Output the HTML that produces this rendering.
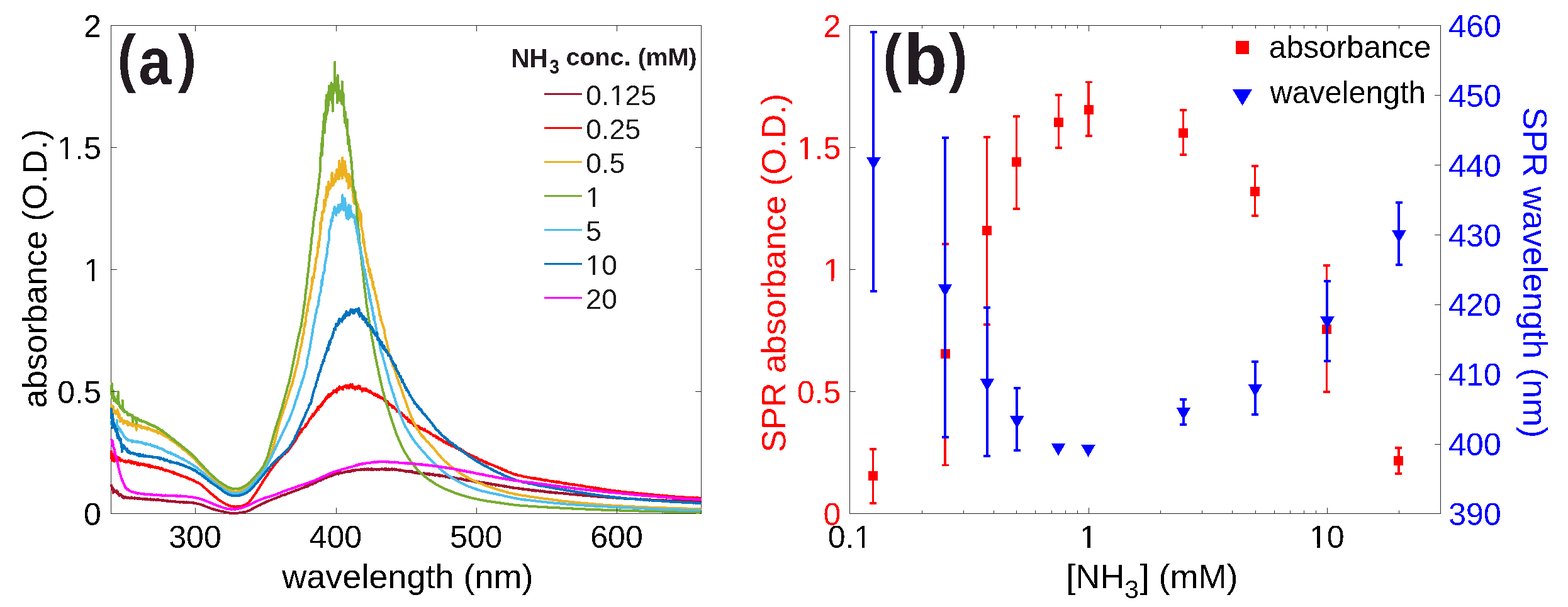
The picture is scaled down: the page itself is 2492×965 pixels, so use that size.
<!DOCTYPE html>
<html><head><meta charset="utf-8"><title>figure</title><style>html,body{margin:0;padding:0;background:#fff;overflow:hidden}svg{display:block}</style></head><body>
<svg width="2492" height="965" viewBox="0 0 2492 965">
<rect width="100%" height="100%" fill="#fff"/>
<defs><filter id="cr" x="0" y="0" width="100%" height="100%" filterUnits="userSpaceOnUse"><feComponentTransfer><feFuncA type="discrete" tableValues="0 1"/></feComponentTransfer></filter></defs>
<defs><clipPath id="ca"><rect x="174.5" y="38.5" width="942.0" height="780.0"/></clipPath></defs>
<rect x="176.5" y="40.5" width="938.0" height="776.0" fill="none" stroke="#262626" stroke-width="1"/>
<g clip-path="url(#ca)" fill="none" stroke-width="4" stroke-linejoin="round" stroke-linecap="butt" shape-rendering="crispEdges">
<path d="M176.5 773.7l.6-2.1 .5 2.3 .6 3.8 .5 .2 .6-2.5 .5 8.2 .6-6.1 .6 .8 .5 1.9 .6 1.1 .5 .6 .6 .5 .6-.2 .5 .3 .6 .3 .5-2.8 .6 2.8 .6 1 .5-2.3 .6 4 .5 .6 .6-.9 .5 2.5 .6 .4 .6-1.7 .5 .4 .6-.9 .5 1.3 .6 .5 .5 .3 .6 .8 .6 1.8 .5-1.1 .6-.5 .5 1 .6 0 .6 1.7 .5-2 .6 1.3 .5-.1 .6-.8 .6 .7 .5-.4 .6 .5 .5-.1 .6 1 .5-.7 .6 .1 .6-.5 .5 .7 .6-.1 .5 .9 .6-.7 .5 .1 .6 .4 .6-.8 .5 .5 .6-1.2 .5 1.1 .6 .1 .6 0 .5 0 .6 .6 .5-.3 .6 .3 .6-.1 .5 .5 .6-1.4 .5 1.2 .6-.3 .5 .3 .6-.5 .6 .4 .5 .5 .6-.6 .5-.3 .6 .2 .5 .5 .6 .5 .6-.1 .5-.8 .6 .6 .5 .4 .6-.7 .6 .4 .5 0 .6 .2 .5 0 .6 .2 .6 .5 .5-1 .6 .4 .5 0 .6 .2 .5-.3 .6 1 .6-.7 .5 .7 .6-.3 .5-1 .6 .6 .5 .2 .6-.1 .6-.3 .5 .5 .6-.1 .5-.1 .6 .3 .6-.1 .5-.1 .6-.2 .5 .7 .6-.7 .6 1.3 .5-.9 .6-.1 .5 .6 .6-.2 .5-.3 .6 1.1 .6-.8 .5-.1 .6 .2 .5-.1 .6 .4 .5 .1 .6-.1 .6 .2 .5-.1 .6-.6 .5 .6 .6 .2 .6 .1 .5-.6 .6 .6 .5-.7 .6 .8 .6 0 .5-.3 .6 .3 .5 .2 .6 .1 .5-.3 .6 .5 .6-.4 .5 .9 .6-.4 .5 .1 .6-.4 .5 .7 .6-.3 .6 .2 .5 0 .6 .1 .5-.5 .6 .8 .6 0 .5 .2 .6 .4 .5-.3 .6-.5 .6 .2 .5 .6 .6-.3 .5 .1 .6 0 .5 .1 .6 .2 .6-.6 .5 .6 .6 0 .5 0 .6 .3 .5 .3 .6-.4 .6-.1 .5 0 .6 .1 .5 .4 .6-.6 .6 .2 .5 0 .6 .3 .5-.3 .6 .8 .6 .1 .5 .2 .6-.5 .5 0 .6 .1 .5-.2 .6 .6 .6-.5 .5 .3 .6-.3 .5 .7 .6-.4 .5-.5 .6 .4 .6-.1 .5 .1 .6 .1 .5 .2 .6-.2 .6 .6 .5-.6 .6-.3 .5 .3 .6 .6 .6-.3 .5 0 .6 .3 .5-.3 .6-.1 .5 .2 .6-.2 .6 .1 .5 .4 .6-.4 .5-.1 .6 .5 .5-.2 .6 0 .6 .1 .5 .4 .6-.3 .5 0 .6-.1 .6 .1 .5 .3 .6-.1 .5-.1 .6 .1 .6 .5 .5 .4 .6-.5 .5 .3 .6-.1 .5-.2 .6 .5 .6 .2 .5 0 .6 0 .5 .5 .6-.1 .5 .3 .6-.2 .6 0 .5 .4 .6 .2 .5 0 .6 .3 .6 .2 .5 .1 .6 .1 .5 .4 .6-.2 .6 .3 .5 .3 .6 .4 .5-.2 .6 .5 .5 .2 .6 .2 .6 .3 .5-.3 .6 .6 .5 .2 .6 0 .5 .4 .6 .4 .6 .1 .5 0 .6 .5 .5 .1 .6 .5 .6-.1 .5 .2 .6 .2 .5 .3 .6 .3 .6 .4 .5 0 .6 .1 .5 .4 .6 .1 .5 .1 .6 .1 .6 .1 .5 .6 .6 .1 .5-.1 .6 .3 .5 .1 .6-.1 .6 .3 .5 .2 .6 .2 .5 .3 .6 .1 .6 .3 .5 0 .6 .1 .5 .2 .6 .2 .6 .2 .5 .1 .6 .4 .5-.3 .6 .2 .5 .2 .6 .1 .6 .1 .5 .2 .6-.1 .5 .1 .6 .3 .5 .2 .6-.1 .6-.1 .5 .6 .6-.1 .5 .1 .6 0 .6 .4 .5 .2 .6-.4 .5 .6 .6 0 .6 0 .5 .2 .6 0 .5 .3 .6-.2 .5 .4 .6 0 .6 .3 .5 0 .6 .3 .5-.1 .6 .1 .5 0 .6 .1 .6 .2 .5-.4 .6 .2 .5 0 .6 .2 .6 0 .5 0 .6 .1 .5 0 .6-.2 .6 0 .5 0 .6-.3 .5 .1 .6 0 .5-.2 .6 0 .6-.1 .5 0 .6-.1 .5-.1 .6-.1 .5 0 .6-.2 .6-.1 .5 .1 .6 0 .5-.1 .6-.5 .6 0 .5 .2 .6-.4 .5 .2 .6-.2 .6-.1 .5-.2 .6 .3 .5-.4 .6-.1 .5 0 .6-.2 .6-.3 .5-.3 .6-.1 .5-.2 .6-.2 .5-.2 .6-.3 .6-.1 .5-.3 .6-.1 .5-.2 .6-.5 .6-.1 .5-.6 .6-.1 .5-.2 .6-.6 .6 .1 .5-.5 .6-.1 .5-.8 .6 0 .5-.4 .6-.2 .6-.4 .5-.3 .6-.3 .5-.5 .6 0 .5-.3 .6-.4 .6-.3 .5-.1 .6-.4 .5-.2 .6-.4 .6-.3 .5 .1 .6-.7 .5 .3 .6-1.1 .6 .1 .5-.3 .6-.4 .5-.2 .6-.3 .5 0 .6-.5 .6-.3 .5-.5 .6 .4 .5-.6 .6-.3 .5-.3 .6 .1 .6-.6 .5 0 .6-.3 .5-.6 .6 .2 .6-.4 .5-.3 .6-.2 .5-.2 .6-.4 .6 0 .5-.3 .6-.3 .5-.2 .6-.2 .5-.1 .6-.3 .6-.1 .5-.4 .6-.1 .5-.2 .6-.4 .5-.1 .6-.1 .6-.5 .5 0 .6-.5 .5-.1 .6-.1 .6-.3 .5 .3 .6-.6 .5-.5 .6-.1 .6-.2 .5-.2 .6-.3 .5-.1 .6-.2 .5-.1 .6-.3 .6-.2 .5-.3 .6-.9 .5 .5 .6-.3 .5-.1 .6-.4 .6-.6 .5 0 .6 .1 .5-.2 .6-.6 .6 .1 .5-.3 .6 .3 .5-.9 .6 .2 .6-.3 .5 0 .6-.4 .5-.5 .6-.2 .5 .1 .6-.4 .6 0 .5-.2 .6-.3 .5 0 .6-.3 .5-.4 .6-.2 .6 .4 .5-.8 .6-.3 .5 .1 .6 .2 .6-.7 .5 0 .6-.4 .5-.1 .6-.3 .6 0 .5-.4 .6-.2 .5-.2 .6 0 .5-1 .6 .5 .6-.2 .5-.2 .6 .1 .5-.6 .6-.4 .5-.2 .6 .1 .6-.1 .5-.4 .6-.5 .5-.1 .6-.6 .6 .1 .5-.2 .6-.4 .5-.2 .6 .1 .6-.2 .5-.3 .6-.3 .5 .1 .6-.5 .5-.4 .6 .2 .6-.2 .5-.3 .6-.4 .5-1 .6 1.2 .5-.8 .6-.2 .6-.5 .5 .6 .6-1 .5 0 .6-.3 .6-.7 .5 .3 .6-.6 .5-.1 .6-.2 .6-.6 .5 .4 .6-1.1 .5-.1 .6 0 .5 .5 .6-.9 .6-.2 .5-.4 .6 .2 .5-1.1 .6 0 .5 .5 .6-.5 .6 .4 .5-1.3 .6-.5 .5-.7 .6 .6 .6-.3 .5-.3 .6-.1 .5-.9 .6 .3 .6-.1 .5-.4 .6 .7 .5-1.4 .6-.2 .5-.1 .6-.7 .6-.1 .5 .1 .6 .1 .5-.4 .6-.3 .5-.5 .6-.3 .6-.9 .5 .5 .6-.9 .5 .1 .6-.5 .6 .2 .5 .7 .6-1.5 .5 .2 .6 0 .6-1 .5 0 .6 .2 .5-.3 .6-1.1 .5 .7 .6-.6 .6 .4 .5-.9 .6 .6 .5-.7 .6 .7 .5-1.1 .6-.5 .6 .8 .5-.5 .6-.7 .5 0 .6 .1 .6-.4 .5 0 .6-.6 .5 .4 .6-.6 .6 0 .5-.2 .6 .1 .5-.4 .6-.1 .5 .1 .6 .8 .6-2.1 .5 .6 .6 .3 .5-.6 .6 .3 .5-.3 .6-.6 .6 .3 .5 0 .6-.1 .5 .3 .6-.4 .6-.2 .5 0 .6 .2 .5-.8 .6 .2 .6-.7 .5-.5 .6 .8 .5-.4 .6-.1 .5 .6 .6-.3 .6-1.1 .5 .5 .6-.5 .5 1 .6-.9 .5-.5 .6-.1 .6 1.6 .5-1.3 .6 0 .5-.4 .6 .8 .6-.5 .5-.7 .6 .3 .5-.1 .6-1.1 .6 1.1 .5 .6 .6-.9 .5 .3 .6 .1 .5-.8 .6-.9 .6 .8 .5-.2 .6 .2 .5-.3 .6-.2 .5 .1 .6-.4 .6 .3 .5 .3 .6-.5 .5 0 .6 .3 .6-.5 .5-.4 .6 .8 .5-.5 .6-.3 .6 .3 .5 .1 .6-.2 .5-.1 .6-.2 .5 .1 .6 .6 .6-1 .5-.3 .6 1.2 .5-.3 .6 .1 .5-.8 .6-.2 .6 1.5 .5-.7 .6 .2 .5-.4 .6-.7 .6 1.4 .5-.3 .6-.4 .5 0 .6-.2 .6 .3 .5 .4 .6-.4 .5-1.3 .6 1 .5 .8 .6-.9 .6 .5 .5-.5 .6 1.5 .5-1.7 .6 .9 .5-.3 .6-.2 .6 .1 .5 .4 .6 .1 .5-.3 .6 .7 .6-.6 .5 .2 .6-.5 .5 .1 .6-.2 .6 .3 .5 .8 .6-.8 .5-.4 .6 .5 .5-.2 .6-.3 .6 .3 .5-.6 .6-.2 .5 .9 .6-.4 .5 .5 .6 .2 .6-.4 .5-.2 .6-.6 .5 1.2 .6-.7 .6 .3 .5 .4 .6-1.5 .5 .9 .6 .7 .6-1.1 .5 1.2 .6 0 .5-.4 .6-.9 .5 1.7 .6-1.6 .6 .6 .5 .8 .6-.8 .5 .1 .6 0 .5-.2 .6 .1 .6-1 .5 1.7 .6-.8 .5 .5 .6-.4 .6-.2 .5-.6 .6 1.5 .5-.2 .6-.7 .6 0 .5 1 .6-.9 .5 .9 .6 .1 .5-.3 .6 .4 .6 0 .5 .2 .6 0 .5 .5 .6 .3 .5-.9 .6 .3 .6-.1 .5-.1 .6 .7 .5 .1 .6 0 .6 0 .5-.3 .6 .4 .5 .2 .6-.2 .6 .5 .5 .3 .6-.6 .5 0 .6 .5 .5-.2 .6 1.1 .6-.8 .5 0 .6 .4 .5-.1 .6-.1 .5 .1 .6 .6 .6-.5 .5 .9 .6-1.6 .5 1.4 .6 0 .6 .2 .5-1.4 .6 1.4 .5-.2 .6-.9 .6 .4 .5 1.7 .6-.8 .5 0 .6 0 .5 .4 .6 .1 .6 1 .5-.1 .6-.9 .5 .8 .6-.3 .5-.1 .6 .6 .6 .4 .5-1.6 .6 .8 .5 .3 .6-.4 .6 1.4 .5-.8 .6-1 .5 .3 .6 .5 .6 .8 .5-.4 .6 .9 .5-.6 .6 .8 .5-.5 .6-.5 .6 .7 .5 0 .6-.9 .5 .7 .6 .1 .5 .5 .6-.8 .6 .2 .5 .2 .6 0 .5 .7 .6-.2 .6-.2 .5-.7 .6 .5 .5 .3 .6 .2 .6 1.1 .5-1.5 .6 1.3 .5-.2 .6-.5 .5-.1 .6 .1 .6 .4 .5 .4 .6 .6 .5-1.2 .6-.6 .5 1.4 .6-.6 .6 .5 .5 .2 .6-.1 .5 1.1 .6-.9 .6 .3 .5-.4 .6 .3 .5-.4 .6 0 .6 .8 .5 .1 .6-.8 .5 .8 .6 .6 .5 .3 .6-1.7 .6 1 .5 .9 .6-.7 .5 .1 .6 .1 .5-.7 .6 .1 .6 1.3 .5 0 .6-.2 .5-.3 .6 .3 .6 0 .5 .2 .6 .4 .5-.5 .6 1.4 .6-1 .5 .5 .6-.2 .5-.9 .6 1 .5 .8 .6-.5 .6-.1 .5 .9 .6-.4 .5 .9 .6-.9 .5 .2 .6 0 .6 .2 .5-.1 .6 .5 .5-.8 .6-.1 .6 .9 .5 .1 .6-.3 .5 .6 .6-.4 .6 .6 .5-.3 .6 .4 .5-.1 .6-.4 .5 1.4 .6-.9 .6 .4 .5 .2 .6 .1 .5 .6 .6-.3 .5-.2 .6 .7 .6-.6 .5-.5 .6-.1 .5 .6 .6 .3 .6 .7 .5-1.1 .6 1.2 .5-.5 .6 0 .6 .5 .5 .1 .6 .4 .5-.2 .6 .3 .5 .3 .6 .1 .6-.6 .5-.1 .6 1 .5 .6 .6-.6 .5 .3 .6 0 .6-.3 .5 .2 .6 .1 .5 .3 .6-.3 .6 .4 .5 0 .6 .1 .5-.4 .6 .7 .6-.2 .5 .3 .6-.4 .5 .6 .6 0 .5-.3 .6 .4 .6 .6 .5 0 .6-1.1 .5 1.7 .6-.5 .5-.8 .6 1.7 .6-.5 .5 0 .6 .4 .5-.4 .6 0 .6 .3 .5 .4 .6-.6 .5 .1 .6 .3 .6 .5 .5-.3 .6 0 .5 .2 .6-.3 .5 .5 .6 .1 .6 .5 .5-.4 .6-.1 .5 .2 .6 .4 .5-.9 .6 .8 .6 .2 .5 .1 .6-.1 .5 .6 .6-.3 .6 0 .5 .2 .6-.2 .5 .4 .6 .1 .6 .3 .5-.6 .6 .7 .5-.1 .6 .2 .5-.5 .6 .1 .6 1.4 .5-1.5 .6 .9 .5 .6 .6-.4 .5 .7 .6-.5 .6 .4 .5-.1 .6 .1 .5-.1 .6-.1 .6-.2 .5 .8 .6-.1 .5 1 .6-.7 .6-.6 .5 1.1 .6-.6 .5 .3 .6 .4 .5-.3 .6 .4 .6-.4 .5 1 .6 0 .5-.5 .6 .3 .5 .4 .6-.2 .6 .2 .5 0 .6-.1 .5 0 .6 .9 .6-.5 .5-.6 .6 .9 .5-.1 .6 .7 .6-.7 .5 .4 .6-.2 .5 .3 .6-.1 .5 1 .6-.6 .6 .5 .5 0 .6 0 .5 0 .6 .1 .5-.3 .6 1.3 .6-.5 .5 0 .6-.2 .5 .3 .6 .1 .6-.1 .5 .2 .6 .3 .5 .3 .6-.3 .6-.2 .5 .3 .6 .7 .5-.4 .6 .1 .5 0 .6 .1 .6-.4 .5 .7 .6 0 .5 0 .6-.2 .5 .3 .6 .2 .6-.2 .5 .3 .6-.5 .5 .8 .6 .3 .6-.5 .5 .4 .6-.3 .5 .3 .6 .1 .6 .5 .5-.5 .6 .7 .5-1 .6 .4 .5 .4 .6 .3 .6-.6 .5 .4 .6 .4 .5-.2 .6 .2 .5 0 .6-.1 .6-.3 .5 .3 .6 .5 .5-.2 .6 .1 .6-.6 .5 1.1 .6-.3 .5-.3 .6 .5 .6 .1 .5-.1 .6 .2 .5-.4 .6 .8 .5-.1 .6 .3 .6-.5 .5 .3 .6-.4 .5 .1 .6-.1 .5 .7 .6 .6 .6-.6 .5-.5 .6 .4 .5 .7 .6-.5 .6-.2 .5-.2 .6 .6 .5-.1 .6 .1 .6 .3 .5 .4 .6-.4 .5 .4 .6-.1 .5-.7 .6 .7 .6 .1 .5-.4 .6 .6 .5-.7 .6 .4 .5 .5 .6 0 .6 .3 .5-.6 .6 .6 .5 .6 .6-1 .6 .4 .5 0 .6 0 .5 .7 .6-.1 .6-.3 .5 .5 .6-.4 .5-.1 .6 .2 .5 0 .6 .6 .6-.2 .5-.5 .6 .7 .5-.2 .6 .5 .5-.8 .6 .7 .6-.2 .5 0 .6 0 .5-.2 .6 .3 .6 .3 .5 .3 .6-.4 .5-.4 .6 1.3 .6-.8 .5 .4 .6-.1 .5 0 .6 0 .5-.5 .6 .6 .6 .2 .5-.1 .6 .2 .5 .1 .6 0 .5 0 .6 .2 .6 .1 .5 .1 .6-.1 .5 .1 .6-.3 .6 .1 .5 .3 .6 0 .5-.3 .6 .5 .6-.1 .5 .1 .6 0 .5-.4 .6 .8 .5-.7 .6 .5 .6 0 .5 .1 .6-.1 .5 .4 .6-.2 .5 .3 .6-.1 .6 0 .5 .3 .6 .3 .5-.5 .6 0 .6 .2 .5 .2 .6-.1 .5 .5 .6-.4 .6 .1 .5 0 .6 .1 .5 .2 .6-.2 .5 .2 .6-.1 .6 .2 .5 .4 .6-.3 .5 0 .6-.3 .5 .2 .6 .7 .6-.5 .5 .3 .6-.2 .5 .2 .6 .1 .6 0 .5 0 .6 0 .5 .1 .6 0 .6 .2 .5-.1 .6 .2 .5 0 .6 .1 .5 0 .6 .7 .6-.6 .5 .2 .6-.1 .5 .4 .6-.4 .5-.1 .6 .4 .6 .2 .5-.2 .6 .3 .5-.5 .6 .6 .6-.1 .5 0 .6 .3 .5-.2 .6 .1 .6-.2 .5-.4 .6 .7 .5-.2 .6 .5 .5-.2 .6 .1 .6 .1 .5-.2 .6 .1 .5 .4 .6-.1 .5-.2 .6-.4 .6 .6 .5-.2 .6-.3 .5 .6 .6 .1 .6 .2 .5 0 .6-.1 .5-.2 .6 .4 .6 0 .5 .6 .6-.6 .5 .2 .6-.2 .5 .4 .6-.2 .6 0 .5 .2 .6 .2 .5-.1 .6-.1 .5 .3 .6 .2 .6-.2 .5 .1 .6-.2 .5 0 .6-.2 .6 .3 .5 .1 .6 .3 .5-.3 .6 .1 .6 .1 .5 0 .6 0 .5 .3 .6-.1 .5 .1 .6 .1 .6 0 .5 .2 .6-.2 .5 .1 .6 .1 .5-.2 .6 .1 .6 .1 .5-.5 .6 .8 .5-.1 .6 .3 .6-.2 .5-.4 .6 .7 .5-.4 .6 0 .6 .2 .5-.1 .6 .2 .5 .1 .6 0 .5 .2 .6-.1 .6 .1 .5-.6 .6 .6 .5 .1 .6-.4 .5 .6 .6-.7 .6 .3 .5 .2 .6 .1 .5 .2 .6 .1 .6 .1 .5-.2 .6 0 .5-.3 .6 .3 .6-.5 .5 .5 .6 .3 .5-.2 .6 .3 .5 .2 .6-.7 .6 .5 .5 .1 .6 .1 .5-.3 .6 .1 .5 .6 .6-.6 .6 .2 .5-.2 .6 .2 .5 0 .6 0 .6 0 .5-.4 .6 .4 .5 .5 .6-.3 .6 .1 .5 .2 .6-.1 .5 0 .6-.5 .5 .3 .6 0 .6 .1 .5 .2 .6 0 .5 0 .6 .1 .5 0 .6-.1 .6 .4 .5-.2 .6 0 .5-.1 .6 .1 .6 0 .5 .3 .6 0 .5-.1 .6 .1 .6-.2 .5-.4 .6 .5 .5 .5 .6-.3 .5-.2 .6-.2 .6 .3 .5 .2 .6 0 .5-.1 .6-.1 .5 .3 .6 .1 .6 .4 .5-.3 .6-.4 .5 .2 .6-.5 .6 .9 .5-.2 .6-.2 .5 .1 .6 .4 .6-.2 .5-.1 .6 0 .5 .1 .6 .2 .5-.6 .6 .5 .6-.1 .5 .1 .6 .3 .5-.1 .6 .2 .5-.1 .6 0 .6-.1 .5 .1 .6 0 .5-.2 .6 .7 .6-.3 .5-.3 .6 .1 .5 .1 .6 .1 .6-.1 .5 .2 .6-.3 .5 0 .6 .3 .5 .4 .6-.7 .6 .4 .5-.2 .6-.1 .5 .1 .6 0 .5 .2 .6-.2 .6 .2 .5 .2 .6-.1 .5 .1 .6-.2 .6 0 .5 .4 .6 0 .5-.1 .6 0 .6-.4 .5 .1 .6-.1 .5 .3 .6 .1 .5 .2 .6-.1 .6 .5 .5-.6 .6 .3 .5 .2 .6-.2 .5 0 .6-.1 .6 .6 .5-.4 .6-.3 .5 .1 .6 .1 .6 .1 .5 .1 .6-.3 .5 .1 .6 .2 .6 .2 .5-.1 .6 0 .5 0 .6 .3 .5-.3 .6 0 .6 .1 .5 0 .6 0 .5 .1 .6-.1 .5 .1 .6 .1 .6-.2 .5 .1 .6 0 .5 0 .6 0 .6-.1 .5 .1 .6 .1 .5 0 .6 .2 .6-.2 .5 .2 .6 0 .5 .2 .6-.2 .5 .5 .6-.6 .6 0 .5 0 .6 .4 .5-.3 .6-.1 .5 .6 .6-.2 .6-.1 .5 0 .6 .1 .5-.1 .6 .1 .6-.1 .5 0 .6 0 .5 .2 .6-.2 .6 0 .5 0 .6 .4 .5-.6 .6 .3 .5 .1 .6 0 .6 0 .5 0 .6 .1 .5 0 .6 0 .5-.2 .6 .2 .6 .3 .5-.3 .6 .1 .5 .4 .6-1 .6 .6 .5-.1 .6 .1 .5 .3 .6-.6 .6-.1 .5 .5 .6-.1 .5 0 .6 .1 .5-.2 .6 0" stroke="#A2142F"/>
<path d="M176.5 716.1l.6 1.9 .5 14.3 .6-8.2 .5-1.8 .6-.7 .5 3.2 .6 .2 .6-2.9 .5 11.6 .6-6 .5 .2 .6-8.5 .6 9.6 .5 3.6 .6-4.4 .5-.8 .6 3.3 .6-4.1 .5 4 .6-2.3 .5 3.1 .6-4 .5 4 .6-2.1 .6-.5 .5 2.9 .6 1.6 .5-2.4 .6 .5 .5 .2 .6-.9 .6 1.3 .5 .1 .6 .2 .5 .3 .6 .2 .6 1.2 .5-.6 .6 .3 .5 .2 .6-1.4 .6 2.4 .5-.5 .6-.8 .5 .6 .6 .4 .5-.3 .6-.1 .6-.3 .5-1.9 .6 1.5 .5 1.2 .6 .1 .5 .1 .6 .6 .6-2.3 .5 3.4 .6-.7 .5-.9 .6 .3 .6 .6 .5-1.8 .6 1.7 .5-.2 .6 1.5 .6-2.2 .5 2.2 .6-.8 .5-1 .6-.4 .5 .5 .6 .5 .6 1.3 .5 1.3 .6-1.5 .5 1.3 .6-2.7 .5 3.6 .6-1.6 .6 .4 .5 1.5 .6-1.8 .5 1.2 .6-1.9 .6 .7 .5 .6 .6-.7 .5 .2 .6 .9 .6-.8 .5-.3 .6 1 .5 .5 .6-1 .5-.1 .6 1.5 .6 .8 .5-1.5 .6 .6 .5 .7 .6-.3 .5 .4 .6-1.1 .6 1.3 .5 .4 .6 .9 .5-1 .6-1.7 .6 2.2 .5-.3 .6-1.3 .5 3.2 .6-1.3 .6-.6 .5 1.4 .6-1.6 .5 .5 .6 1.3 .5-.6 .6 .2 .6 0 .5 .6 .6 0 .5 .3 .6 .1 .5 .4 .6-1.2 .6 .3 .5 .9 .6-.2 .5 .4 .6 .4 .6 0 .5-1.2 .6 1.5 .5 0 .6-.8 .6 1.4 .5-.5 .6 1.2 .5-.8 .6 0 .5 .1 .6-.6 .6 1.2 .5-.9 .6 1.7 .5-.1 .6 .6 .5 .5 .6-.5 .6-.1 .5 0 .6 1.9 .5-2.1 .6 1.4 .6 .1 .5-.5 .6 0 .5 .5 .6 .6 .6 .1 .5-.3 .6 .7 .5-.3 .6 .2 .5 .5 .6-.4 .6 .9 .5-.2 .6 .3 .5 .5 .6 0 .5 .1 .6 .3 .6 .8 .5-1.6 .6 .4 .5 2.2 .6-1.6 .6 1 .5 .7 .6-.7 .5 .6 .6 0 .6 0 .5 .6 .6 1 .5-1 .6 .4 .5-.2 .6 1.1 .6-.4 .5 .1 .6 .8 .5 .1 .6 .3 .5 1.2 .6-.6 .6 .1 .5 .6 .6-.6 .5 .5 .6 .1 .6 .5 .5 .1 .6-.1 .5 .5 .6 .1 .6 .3 .5 .1 .6-.2 .5 .9 .6 0 .5 .1 .6 .9 .6-1.1 .5 1 .6 .5 .5-.2 .6 .1 .5 .4 .6-.2 .6 1.3 .5-.3 .6 .1 .5-.1 .6 .7 .6 .2 .5 .4 .6 .1 .5 .3 .6-.2 .6 .4 .5 .4 .6-.1 .5 1.4 .6-.6 .5 .5 .6 .1 .6 .6 .5 .1 .6 0 .5 1.3 .6-.3 .5 .1 .6 0 .6 .8 .5-.1 .6 .7 .5 .3 .6 .2 .6 .3 .5 .1 .6 .4 .5 .9 .6 0 .6 .5 .5 .6 .6 .2 .5 .2 .6 .9 .5 0 .6 1.3 .6 .4 .5 .1 .6 .8 .5 .3 .6 .6 .5 .8 .6 .1 .6 .5 .5 1 .6 .4 .5 .2 .6 .3 .6 .6 .5 .8 .6 .6 .5 .4 .6 .7 .6 .3 .5 .7 .6 .5 .5 .3 .6 .8 .5 .1 .6 .4 .6 .5 .5 0 .6 .7 .5 .7 .6 .2 .5 .8 .6 .3 .6 .7 .5 .3 .6-.1 .5 1 .6 .4 .6 .3 .5 .6 .6 .2 .5 1.1 .6 0 .6 .5 .5 .3 .6 0 .5 1.2 .6 0 .5 .3 .6 .3 .6 .3 .5 .6 .6 .4 .5 .1 .6 .7 .5 .4 .6 .2 .6 .3 .5 0 .6 .6 .5 .4 .6 .3 .6 .2 .5 .4 .6 .3 .5 .5 .6 .2 .6 0 .5 .3 .6 .2 .5 .7 .6-.3 .5 .5 .6-.1 .6 .4 .5 .2 .6 .1 .5 .2 .6 .1 .5 .4 .6-.1 .6 .2 .5 .3 .6 0 .5-.1 .6 .1 .6-.1 .5 .3 .6 .2 .5-.7 .6 .4 .6 0 .5 .1 .6 0 .5-.1 .6-.2 .5 .4 .6-.4 .6-.3 .5 .3 .6 0 .5 0 .6-.1 .5-.1 .6-.3 .6 .4 .5-.6 .6 0 .5 .2 .6-.2 .6-.5 .5-.1 .6-.1 .5-.4 .6 .1 .6-.3 .5 0 .6-.5 .5 0 .6-.3 .5-.5 .6-.2 .6-.4 .5-.3 .6-.4 .5-.2 .6-.6 .5-.2 .6-.6 .6-.6 .5-.4 .6-.6 .5-.8 .6-.7 .6-.5 .5-.7 .6-.7 .5-.8 .6-.8 .6-1 .5-.1 .6-1.4 .5-1.1 .6-.2 .5-1 .6-.8 .6-.7 .5-.7 .6-1 .5-1 .6-.3 .5-1.1 .6-.3 .6-1.7 .5-.8 .6-.2 .5-1.5 .6-.9 .6-.5 .5-1.2 .6-1 .5-.7 .6-1 .6-1.6 .5-.3 .6-.8 .5-.5 .6-1 .5-1.5 .6-.8 .6-1 .5-.7 .6-.8 .5-.9 .6-1 .5-.6 .6-.9 .6-.8 .5-1 .6-.5 .5-.2 .6-1.2 .6-1 .5-1.4 .6-.6 .5-.9 .6-.5 .6-.4 .5-1.2 .6-1.2 .5-.4 .6-.8 .5-.6 .6-.5 .6-1.2 .5-.7 .6-.6 .5-.6 .6-1.2 .5-.4 .6-.9 .6-.5 .5-1.2 .6-.4 .5-.8 .6-1.4 .6-.2 .5-.8 .6-.3 .5-1.3 .6-.2 .6-2 .5-.1 .6-.3 .5-.9 .6-.3 .5-.9 .6 .1 .6-2.4 .5 .3 .6 .2 .5-.8 .6-1 .5-.8 .6 .3 .6-2.1 .5 .7 .6-2.1 .5 .6 .6-.1 .6-.4 .5 .2 .6-.4 .5-1.3 .6-.7 .6-.8 .5 .4 .6-1.5 .5 .6 .6-1.7 .5-.5 .6 .7 .6-1.7 .5-.4 .6-.7 .5-1.1 .6-.3 .5-.7 .6-.7 .6-1.6 .5-1 .6 .4 .5-1.7 .6-.2 .6-.7 .5-.8 .6-1.4 .5-.5 .6-.8 .6-.4 .5-1.5 .6-1.5 .5 1.2 .6-2.6 .5-1 .6 .5 .6-1.8 .5-2.1 .6-1.8 .5 .3 .6 .4 .5-1.9 .6-.3 .6-.2 .5-1.5 .6-1.9 .5-.5 .6 .2 .6 .4 .5-3.1 .6-1.7 .5 1.2 .6-.2 .6-1.3 .5-1 .6-.4 .5-.6 .6-.5 .5-.8 .6 .4 .6-1.8 .5-2.8 .6 3.1 .5-3.4 .6-.9 .5 0 .6-1.1 .6 0 .5-1.6 .6-.9 .5-.8 .6-.3 .6-2.9 .5 .3 .6 .1 .5-1 .6 0 .6-2.8 .5 .6 .6-1.7 .5 .8 .6-3.6 .5 2.9 .6-2 .6 .5 .5-1.2 .6-2.1 .5 1.4 .6-2.1 .5-.2 .6-2.5 .6 1.7 .5-1.9 .6-2.1 .5-.1 .6-.8 .6-3 .5 4.6 .6-3.7 .5-.9 .6-.8 .6-.6 .5 1.5 .6-.9 .5-2.9 .6-.2 .5 .1 .6 1.6 .6-3.6 .5 .9 .6-2.8 .5 .3 .6-1.8 .5 1.7 .6-2.1 .6 .8 .5-2.9 .6 0 .5 .2 .6-3.8 .6 1.4 .5 .2 .6-2.2 .5 .9 .6-3 .6 2.1 .5-4.3 .6 4.7 .5-3.3 .6 .7 .5-.9 .6-1 .6 2.2 .5-2 .6 .3 .5-2.7 .6 1.1 .5-1.3 .6 .1 .6-.1 .5-3.2 .6 1.7 .5-.7 .6-.6 .6-.9 .5 1.4 .6 1 .5-2.3 .6 .8 .6 1.9 .5-5.6 .6 1.3 .5 .2 .6 .9 .5-2.4 .6 .4 .6 1 .5-4.9 .6 .7 .5 .2 .6 .7 .5 .9 .6 .4 .6-1.1 .5 1.5 .6-1.8 .5 2.4 .6 1.1 .6-4.3 .5 .8 .6-1.1 .5-.5 .6-.5 .6 .8 .5-1.2 .6 .8 .5-1.8 .6 .2 .5 4.4 .6-2.1 .6-.5 .5 .4 .6 .3 .5-2.7 .6 4.9 .5-2.3 .6-1.9 .6 1.8 .5-.2 .6-3.7 .5 2.3 .6 1 .6 1.4 .5-.6 .6-4.2 .5 2.8 .6 3.2 .6-2.6 .5 1 .6-.8 .5 1.4 .6 1 .5 2.2 .6-2.8 .6-1.8 .5-.1 .6 1.3 .5-.1 .6 1.9 .5-.5 .6-1.9 .6-1.7 .5 3.8 .6-.8 .5-1.2 .6-1.2 .6 4.2 .5-.8 .6 .8 .5 0 .6 .2 .6 .7 .5 3 .6-4.1 .5 .4 .6-.5 .5 2.6 .6-.3 .6-.8 .5-1.8 .6 2.4 .5 1.1 .6-1 .5-2.1 .6 1.4 .6-.1 .5 2.1 .6 .7 .5-1.9 .6 .8 .6-.2 .5 1.8 .6 .5 .5 .5 .6-1.9 .6-.3 .5 2.5 .6-1.5 .5 1.9 .6 .1 .5 .1 .6 1.2 .6 .1 .5 .2 .6 .3 .5-.4 .6 1.9 .5-2.1 .6 2.1 .6-.6 .5-.2 .6 1.9 .5-.8 .6 0 .6 .3 .5-1.1 .6 1 .5 2.5 .6-2.2 .6 1.3 .5 0 .6 1.8 .5-.7 .6-.2 .5 0 .6 .3 .6 2 .5-1.5 .6 1.3 .5 .1 .6-.4 .5 1.7 .6-1.5 .6 .7 .5 .9 .6 1.6 .5 .1 .6 1.4 .6-1.2 .5-.3 .6 2.9 .5-1.2 .6 .7 .6 3.2 .5-3.5 .6 2.1 .5 1 .6 2.4 .5-2.7 .6 1.5 .6 .1 .5 1.3 .6-.6 .5 .9 .6-.5 .5 .9 .6 .3 .6 1.5 .5 1.6 .6-2.4 .5-.1 .6 1.9 .6-.8 .5 1.6 .6 .7 .5 .8 .6 .6 .6 .2 .5 1.1 .6-.1 .5 .3 .6 2.7 .5-1.6 .6 .8 .6-.3 .5 0 .6 1 .5 .4 .6 .5 .5 1.2 .6 .2 .6-.7 .5-.3 .6 2.9 .5 2.2 .6-3.9 .6 1.4 .5 1.3 .6-.1 .5 1.1 .6-.6 .6 2.2 .5 .1 .6 .1 .5 1.4 .6-.6 .5 1.4 .6-.4 .6 .3 .5 1.3 .6-2 .5 2.6 .6 .2 .5 3.3 .6-.7 .6-1 .5-.6 .6 1.8 .5-.5 .6 3.1 .6-2 .5 .5 .6 1.2 .5 .8 .6-.1 .6 1.3 .5-.3 .6 .3 .5 .7 .6 .9 .5 2.1 .6-1.2 .6-.9 .5 1.6 .6 1 .5-.4 .6-.1 .5 .2 .6-.5 .6 .5 .5-.7 .6 1.1 .5 1.3 .6 1 .6-2 .5 2.3 .6-.4 .5 .9 .6-.8 .6 1.5 .5-.2 .6 .6 .5-1 .6 .9 .5 .3 .6 .7 .6 .6 .5-1.1 .6 .6 .5 .3 .6-1.3 .5 2.2 .6 .9 .6-.4 .5 .7 .6 0 .5 .3 .6 .2 .6-.7 .5 .8 .6 1 .5-.3 .6 .1 .6 .6 .5 .7 .6-.5 .5 1.3 .6 1.2 .5-.2 .6-.2 .6 .7 .5 .3 .6 .4 .5 .7 .6 .8 .5 .7 .6-1.2 .6 .9 .5 .1 .6-.8 .5 1.3 .6 0 .6 .5 .5-.6 .6 2.7 .5-.6 .6-1 .6 1.6 .5-.9 .6 2.1 .5 .9 .6-1.6 .5 1.2 .6 .2 .6-.7 .5 1.8 .6-1.5 .5 1.8 .6 .6 .5 .3 .6-.1 .6 .3 .5-.4 .6 2.1 .5 .4 .6-.3 .6-.5 .5 0 .6 .7 .5 .2 .6 .2 .6 2.1 .5-1 .6-1.7 .5 2.1 .6-1 .5 1.3 .6 .7 .6 1.4 .5-.9 .6 .1 .5 .1 .6 .3 .5 .2 .6 .3 .6 1.6 .5-.8 .6-1.2 .5 2.8 .6-1.3 .6 .6 .5 0 .6 .7 .5 .2 .6 .1 .6-.5 .5 1.3 .6 .9 .5 .6 .6-1.5 .5 1.2 .6 .7 .6-.5 .5-.1 .6 .7 .5 .9 .6-.1 .5 .5 .6 1.4 .6-2.3 .5 1.5 .6 .9 .5-1 .6-.4 .6 1.3 .5 1 .6 .4 .5-.1 .6 .2 .6-.2 .5-.3 .6 .8 .5 1.2 .6 0 .5 1 .6-.3 .6 1.1 .5 .1 .6 .3 .5-.1 .6 .3 .5-.1 .6 1.3 .6 .1 .5-.5 .6 .3 .5 .2 .6 .3 .6 .4 .5 .4 .6 .1 .5 1.2 .6-.1 .6-.3 .5 .9 .6-.1 .5 .6 .6 .1 .5-.2 .6 .5 .6 .5 .5 .4 .6-.3 .5 .5 .6 .5 .5-.3 .6 .6 .6-.8 .5 1.4 .6-.2 .5 .8 .6 .1 .6 .1 .5 1.3 .6-.4 .5 .2 .6 1.1 .6-.8 .5 .4 .6-.3 .5 1.1 .6 .2 .5-.4 .6 .9 .6-.2 .5 .7 .6 .3 .5 .4 .6 .3 .5 0 .6 .6 .6-.5 .5-.5 .6 1.9 .5 .4 .6 .6 .6-1.5 .5 1.5 .6-.5 .5 .5 .6 .4 .6 .2 .5-.2 .6 1.5 .5-1.3 .6 .6 .5 .5 .6 .3 .6-.2 .5 .2 .6 .5 .5 .2 .6 .1 .5-.3 .6 .7 .6-.1 .5 .5 .6 .3 .5 .3 .6 0 .6 .4 .5 0 .6 .8 .5 0 .6-.3 .6 .7 .5-.2 .6-.1 .5 .9 .6 .7 .5-.4 .6 .3 .6 .5 .5-.3 .6 .6 .5 .9 .6 .2 .5-.1 .6-.1 .6 0 .5 1.1 .6 .7 .5-.8 .6 .4 .6 .2 .5-.1 .6 .1 .5-.1 .6 .9 .6 1.4 .5-.4 .6-.1 .5-.4 .6 1.5 .5-.3 .6 .3 .6 .3 .5 .3 .6 .3 .5 .2 .6 .5 .5-.2 .6 .3 .6 0 .5 .3 .6-.4 .5 1 .6-.3 .6 .7 .5 .1 .6 0 .5 .5 .6 .2 .6 .1 .5 .6 .6-.2 .5 .7 .6-.1 .5-.1 .6-.5 .6 0 .5 1.2 .6 .3 .5-.1 .6 .1 .5 .2 .6-.1 .6 .2 .5 .2 .6 .1 .5 .2 .6 .1 .6-.3 .5 0 .6-.1 .5 .6 .6 .9 .6-.3 .5-.1 .6 .5 .5-.1 .6 .7 .5-.2 .6-.1 .6 .6 .5-.4 .6 .3 .5-.4 .6 .5 .5 0 .6-.2 .6 .3 .5 .8 .6-.3 .5-.2 .6 .4 .6 0 .5-.1 .6 .2 .5 .2 .6-.1 .6 .1 .5 .8 .6-.4 .5 0 .6-.3 .5 1 .6-.4 .6 .2 .5-.2 .6-.1 .5 .9 .6-.8 .5 .3 .6 .4 .6-.5 .5 .7 .6-.3 .5 .8 .6-.4 .6 .1 .5-.3 .6 .2 .5 .4 .6 .6 .6-.4 .5 .1 .6-.7 .5 .7 .6 .3 .5 .1 .6-.2 .6 .7 .5-.5 .6 .2 .5 .2 .6 0 .5 .2 .6 .4 .6-.2 .5 .6 .6-.1 .5-.2 .6-.2 .6 .5 .5-.1 .6-.6 .5 .5 .6 0 .6 .4 .5 .1 .6 .1 .5 .1 .6 .1 .5 .2 .6 .2 .6 .4 .5-.4 .6-.1 .5 .2 .6 .4 .5-.4 .6 .9 .6-.9 .5 .4 .6 .2 .5 .1 .6-.2 .6 1.1 .5 .1 .6-.7 .5 .2 .6 0 .6 .1 .5 .6 .6-1.2 .5 .7 .6 .6 .5-.4 .6 .2 .6 0 .5 0 .6-.5 .5 1.2 .6-1 .5 .8 .6 .3 .6 0 .5 0 .6-.3 .5 .4 .6 .6 .6-.5 .5 .2 .6-.1 .5 .8 .6-.7 .6 0 .5 1.1 .6-.6 .5 .4 .6-.2 .5 .4 .6-.6 .6 .7 .5-.3 .6 .1 .5 .3 .6 .2 .5-.5 .6 1 .6-.3 .5 0 .6 0 .5 .2 .6 .3 .6-.3 .5 0 .6 .1 .5 .2 .6 .2 .6 .7 .5-.6 .6 0 .5 .2 .6-.5 .5 .8 .6-.3 .6 .2 .5-.1 .6 0 .5 .6 .6-.4 .5 .5 .6 0 .6-.3 .5 .5 .6 .1 .5 .5 .6-.4 .6 .3 .5 0 .6 .1 .5-.5 .6 .6 .6 0 .5 .4 .6 0 .5-.3 .6 .7 .5-.7 .6 .6 .6 .1 .5 0 .6 .2 .5 0 .6 .1 .5 0 .6 .3 .6 .2 .5-.1 .6 .4 .5-.2 .6 0 .6 0 .5 .5 .6-.1 .5-.2 .6 .4 .6-.2 .5 .2 .6 .6 .5-.3 .6-.1 .5 .2 .6 0 .6-.4 .5 .6 .6 .2 .5-.2 .6 .4 .5 .7 .6-.5 .6 0 .5-.3 .6 .5 .5 .2 .6-.6 .6 .7 .5 .2 .6-.1 .5 .2 .6 .3 .6-.3 .5 .1 .6-.4 .5 .9 .6-.5 .5 .3 .6 .3 .6 0 .5 0 .6 .2 .5 .3 .6-.4 .5 .5 .6-.1 .6 .1 .5-.2 .6 .3 .5 .2 .6-.6 .6 .8 .5-.1 .6 .3 .5-.2 .6 .1 .6 0 .5 .3 .6 .2 .5-.1 .6-.2 .5 .5 .6 .5 .6-.3 .5-.4 .6 1 .5-.1 .6-.1 .5-.5 .6 .4 .6 0 .5 0 .6 .2 .5 0 .6 .2 .6 0 .5 .2 .6 .5 .5-.5 .6 .2 .6 .1 .5-.3 .6 .4 .5 .3 .6-.3 .5 .1 .6 .5 .6-.3 .5 0 .6 .2 .5-.6 .6 .5 .5 .2 .6-.2 .6 .8 .5-.3 .6-.3 .5 .3 .6 .3 .6-.2 .5 0 .6 .1 .5 .6 .6 .1 .6-.4 .5 .6 .6-.2 .5-.3 .6 .1 .5 .4 .6-.5 .6 .4 .5-.3 .6 .3 .5 0 .6 .2 .5-.1 .6 .3 .6 0 .5-.3 .6 .5 .5-.1 .6-.1 .6 .3 .5 0 .6-.3 .5 .5 .6 .1 .6-.4 .5 .4 .6 .1 .5-.3 .6 .4 .5-.6 .6 .5 .6 0 .5 .4 .6 0 .5-.2 .6 0 .5 .4 .6 .1 .6 0 .5 .1 .6-.1 .5 0 .6 0 .6 .5 .5-.2 .6 .2 .5-.1 .6 .1 .6-.4 .5 .4 .6 .2 .5-.2 .6-.4 .5 .4 .6 .2 .6 .1 .5 .1 .6 0 .5-.1 .6 0 .5 .2 .6-.1 .6 .2 .5 0 .6 .2 .5 .1 .6 .1 .6-.4 .5 .2 .6-.1 .5 .2 .6 0 .6 .2 .5 0 .6 .3 .5-.2 .6 .5 .5-.7 .6 .2 .6 .4 .5-.2 .6 0 .5 .6 .6-.4 .5 .1 .6 0 .6-.1 .5 .2 .6 .2 .5-.1 .6 .1 .6 .6 .5-.3 .6-.1 .5 .2 .6 0 .6-.2 .5-.2 .6 .4 .5 0 .6 0 .5 .1 .6 0 .6 .6 .5-.6 .6 .4 .5 0 .6-.1 .5 0 .6 0 .6 .2 .5-.3 .6 .3 .5-.1 .6 .3 .6 .3 .5 .2 .6-.5 .5 .2 .6 0 .6 .1 .5 .1 .6-.1 .5 .2 .6-.3 .5 .4 .6-.5 .6 .3 .5 .2 .6-.1 .5 .2 .6 0 .5-.1 .6 .1 .6 .3 .5-.3 .6 .7 .5 .1 .6-.4 .6 .1 .5 0 .6 0 .5 0 .6-.2 .6 0 .5 .4 .6 .1 .5-.1 .6 .2 .5 0 .6-.1 .6 .6 .5-.5 .6 0 .5 .2 .6 .1 .5-.1 .6 .2 .6-.2 .5 .1 .6 .2 .5-.2 .6 .2 .6 .2 .5-.1 .6 0 .5-.3 .6 .5 .6 0 .5-.5 .6 .5 .5-.1 .6 .4 .5-.1 .6 .1 .6-.3 .5 .2 .6 .2 .5 .2 .6-.2 .5 .2 .6-.2 .6 0 .5 .2 .6 .1 .5-.1 .6 .1 .6-.2 .5 .4 .6-.3 .5 .2 .6-.1 .6 0 .5 .3 .6-.3 .5-.2 .6 .4 .5 0 .6 .1 .6 .1 .5-.2 .6 0 .5 .3 .6 .1 .5-.2 .6 0 .6 .1 .5-.4 .6 .2 .5-.1 .6 .3 .6-.1 .5-.2 .6 .7 .5-.3 .6 .1 .6-.2 .5 .2 .6-.1 .5 .1 .6-.1 .5 0 .6-.1" stroke="#FF0000"/>
<path d="M176.5 643.4l.6 7.4 .5-2.3 .6 6.8 .5 2.8 .6-8.3 .5-3.6 .6 4.4 .6 2.8 .5-.2 .6-.4 .5 2.1 .6 2.1 .6-3.6 .5 4.9 .6-4.4 .5 2.7 .6 .9 .6-6.3 .5 2.7 .6 .9 .5 7.7 .6 1.2 .5-1.2 .6-3.3 .6 5.1 .5 6.2 .6-.3 .5-3.8 .6-1 .5-.5 .6 3.2 .6-.1 .5 .4 .6 2.7 .5 2.5 .6-4.1 .6 .4 .5-1.3 .6 3.2 .5-2.4 .6 2.4 .6-.5 .5-.3 .6 2.2 .5-3.6 .6 0 .5-.1 .6 6.5 .6-3.5 .5 .1 .6-.8 .5 2.5 .6 .6 .5-2.1 .6 1.7 .6 1.4 .5-.2 .6-1.7 .5 .4 .6-.4 .6 0 .5 3.6 .6-4.2 .5 .6 .6-.3 .6 1.1 .5 1 .6 .5 .5-1.8 .6 1.6 .5 0 .6 7.7 .6-7.8 .5 .1 .6 .3 .5 .4 .6-.4 .5 .8 .6 .5 .6-1.6 .5 .6 .6 .5 .5 1.4 .6 1 .6-2.8 .5 0 .6 2 .5-.4 .6 2.5 .6-1.8 .5-.4 .6 .8 .5-.7 .6-.3 .5 2.1 .6-1 .6 .7 .5 .6 .6-.2 .5-.1 .6-.8 .5 .7 .6 2.6 .6-.5 .5-3.1 .6 2.1 .5 .1 .6 .5 .6-.7 .5 .8 .6 .1 .5 .7 .6-.6 .6 1.1 .5 .5 .6-.7 .5-.3 .6 1.1 .5 .2 .6 .6 .6-.7 .5-.1 .6 1.5 .5-.6 .6 .2 .5 1.1 .6-.7 .6 .6 .5 .4 .6-2.1 .5 3 .6-.5 .6-.1 .5 .5 .6 1.8 .5-2.2 .6 1.4 .6-.1 .5-.7 .6-.3 .5 .8 .6 1.3 .5-.2 .6 0 .6 1.4 .5-1.6 .6 2.5 .5-.7 .6 .8 .5 .3 .6 .6 .6-1.4 .5 2 .6-1.2 .5 1.7 .6 0 .6 .5 .5-1.6 .6 2.6 .5-1 .6 1.1 .6-1 .5 1.1 .6 1 .5 0 .6 .9 .5 0 .6 1.6 .6-1.2 .5 .5 .6 .7 .5 1.6 .6-2 .5 1.9 .6 0 .6 1.5 .5-.7 .6 .4 .5 .3 .6 .7 .6 .5 .5-.1 .6 1 .5 .4 .6 .3 .6 .7 .5 0 .6 1.4 .5 0 .6 .3 .5 .7 .6-.2 .6 1 .5 .5 .6 .4 .5 0 .6 1.2 .5-.2 .6 0 .6 1.6 .5 .6 .6-.3 .5 1 .6 .5 .6 .9 .5-.3 .6-.2 .5 .6 .6 .9 .6 .5 .5-.6 .6 1.3 .5-.2 .6 1.1 .5 .4 .6 .4 .6 1.1 .5 .2 .6 .9 .5-.9 .6 .1 .5 1.4 .6 1 .6 .5 .5 .1 .6 .5 .5 .7 .6 .8 .6-.1 .5 .3 .6 1.5 .5 0 .6 .6 .6 .4 .5 .5 .6 .7 .5 .2 .6 1.1 .5 .6 .6 .3 .6 .5 .5 .6 .6 1.3 .5 .6 .6 .4 .5-.1 .6 1.2 .6 .7 .5 .8 .6-.3 .5 1.7 .6 .3 .6 .5 .5 .5 .6 .6 .5 .9 .6 .7 .6-.3 .5 1.3 .6 .7 .5 .8 .6 0 .5 .5 .6 .9 .6 .6 .5 .4 .6 0 .5 1.2 .6 .4 .5 .4 .6 .8 .6 .7 .5 .7 .6 .3 .5 .4 .6 .2 .6 1.3 .5 .6 .6 .2 .5 .4 .6 1.1 .6 .1 .5 .7 .6-.2 .5 1.2 .6 .8 .5 0 .6 .8 .6 .5 .5 .7 .6 .4 .5 .6 .6 .4 .5 .4 .6 .6 .6 .3 .5 .3 .6 .8 .5 1 .6-.4 .6 1 .5 .4 .6 .4 .5 .4 .6 .6 .6 .4 .5 .4 .6 .5 .5 .5 .6 .4 .5 .5 .6 .5 .6 .3 .5 .4 .6 .5 .5 .3 .6 .4 .5 .5 .6 .5 .6 0 .5 1 .6 0 .5 .5 .6 .4 .6 .2 .5 .5 .6-.1 .5 .6 .6 .7 .6 .2 .5 .2 .6 .6 .5 .1 .6-.1 .5 .8 .6 .3 .6 .2 .5 .2 .6 .2 .5 .2 .6 0 .5 .3 .6 .2 .6 .3 .5 .2 .6-.4 .5 .4 .6-.2 .6 .3 .5 0 .6 0 .5 .3 .6 .1 .6-.3 .5 .2 .6-.1 .5 0 .6-.1 .5-.1 .6 0 .6-.1 .5-.1 .6-.2 .5 .3 .6-.9 .5 .3 .6-.4 .6 .5 .5-.3 .6-.3 .5-.7 .6 .1 .6-.5 .5-.1 .6 0 .5-.5 .6-.2 .6-.4 .5-.4 .6 0 .5-.8 .6 0 .5-.3 .6-.5 .6-.2 .5-.6 .6-.3 .5-.4 .6-.3 .5-.5 .6-.7 .6-.4 .5-.4 .6-.7 .5-.6 .6-.1 .6-1.3 .5 .5 .6-1.2 .5-.4 .6-.6 .6-.7 .5-.7 .6-.5 .5-.7 .6-.9 .5-.1 .6-.7 .6-.8 .5-.5 .6-.6 .5-.7 .6-.7 .5-.8 .6-.7 .6-.4 .5-.3 .6-1 .5-.4 .6-.4 .6-1.2 .5-.1 .6-.8 .5-.7 .6-.9 .6-.4 .5-1.2 .6 .3 .5-.6 .6-1 .5-1 .6-.7 .6-.5 .5-1 .6-1 .5-.8 .6-1.1 .5-.8 .6-1.3 .6-.8 .5-.8 .6-1 .5-1 .6-1.1 .6-1.2 .5-1.2 .6-1 .5-1.5 .6-.9 .6-2 .5-1.1 .6-.9 .5-1.7 .6-1.4 .5-1.4 .6-1.8 .6-1.4 .5-1.5 .6-2.2 .5-1.6 .6-1.9 .5-1.8 .6-1.9 .6-1.9 .5-2.2 .6-2.2 .5-2.1 .6-2.8 .6-1.8 .5-2.3 .6-2.5 .5-2.9 .6-2.4 .6-1.9 .5-2.1 .6-2.4 .5-2.4 .6-1.3 .5-2.4 .6-2 .6-1.4 .5-1.3 .6-2.4 .5-1.2 .6-1.9 .5-1.9 .6-2.9 .6 .2 .5-1.3 .6-2.6 .5-2.8 .6 .7 .6-3.1 .5 0 .6-3.3 .5-.9 .6-2.7 .6-1.3 .5-2.1 .6-1.1 .5-1 .6-2.2 .5-2 .6-1.5 .6-1.8 .5-2.4 .6-1.7 .5-2.5 .6-1.1 .5-1.8 .6-2.1 .6-2.3 .5-1.1 .6 .1 .5-3.6 .6 0 .6-4.1 .5-.2 .6-3.6 .5-1.1 .6-4 .6 .2 .5-3.9 .6-2.4 .5-1.4 .6-3.1 .5-1.9 .6-2.2 .6-2.5 .5-.1 .6-5.9 .5-.3 .6-3.4 .5-1.6 .6-5 .6-1.5 .5-2.2 .6-2.7 .5-3.2 .6-1.7 .6-2.3 .5-2 .6-3.4 .5-6.7 .6 .5 .6-3 .5-5.5 .6 1.1 .5-3.9 .6-7.7 .5-5.5 .6 2.7 .6-2.3 .5-3 .6-8.5 .5-1 .6-5.5 .5-3.6 .6 2.9 .6-10.8 .5 .4 .6-4.4 .5-2.2 .6-3 .6-3.3 .5 2.9 .6-8.9 .5-2 .6-3.5 .6-1.3 .5-4.5 .6-4.9 .5-9 .6 6.2 .5-8.1 .6-.6 .6 1.3 .5 1 .6-14.6 .5 2.4 .6-1.1 .5-8.2 .6-3.8 .6-6.2 .5 .9 .6-2.1 .5-3.6 .6-2.3 .6-7.5 .5-9.7 .6 8.4 .5-9.1 .6-3.9 .6 .8 .5-11.6 .6-15.8 .5 9.9 .6-9 .5-8.4 .6 4.9 .6-14.2 .5 .9 .6-2.1 .5 2.4 .6-4.7 .5 1.8 .6-17.8 .6 .2 .5 10.7 .6-11.5 .5 2.2 .6-10.6 .6 .8 .5-13.1 .6 6.4 .5 10 .6-9 .6-4.3 .5-10.4 .6 9.9 .5 2.5 .6-3.6 .5-.3 .6 1.8 .6-5.6 .5 1.1 .6-5 .5-9.8 .6-5.6 .5 20.5 .6-8.3 .6-2.3 .5 9.3 .6-8.1 .5 5.5 .6-4.1 .6 .2 .5-9.2 .6 10.2 .5-5.6 .6-1.2 .6 3.2 .5-15.4 .6 14.1 .5-.5 .6-6.5 .5 2.5 .6-4.7 .6 10.5 .5-28.9 .6 15.8 .5 5.2 .6-10.3 .5 12.6 .6-.4 .6-13.4 .5 10.5 .6 7.8 .5-32.8 .6 18.2 .6 9.4 .5-4.5 .6-6 .5 5.9 .6-2.5 .6-14.7 .5 23.5 .6-11.6 .5 8.8 .6 7.1 .5 3.4 .6-4.9 .6 6.3 .5-11.9 .6 5.1 .5 16.6 .6-22.2 .5 8.4 .6 3.2 .6 8 .5-5.9 .6-9.6 .5 10.7 .6 2.9 .6-.5 .5 2.2 .6 .5 .5 8.1 .6 3.1 .6 12.6 .5-21.9 .6 24.8 .5-12.1 .6-2.7 .5 2.8 .6-6.4 .6 14.4 .5 5 .6 .3 .5-3.5 .6 4.7 .5 .1 .6-.3 .6 6.7 .5-1.2 .6 18.9 .5-11.8 .6-3.6 .6 2 .5 11.2 .6-8.8 .5 19.6 .6 2.7 .6 2.2 .5 3.3 .6 .2 .5 7.8 .6 11.2 .5-6 .6 7.9 .6-3.8 .5 10.6 .6 2.1 .5 5.4 .6 .5 .5 .8 .6 5.1 .6 7.4 .5-4.4 .6 1.4 .5 8.2 .6-1.2 .6 7.1 .5 5.4 .6-5.1 .5 2.9 .6-2.4 .6 13.3 .5-6.3 .6 1.6 .5 4.1 .6 1.8 .5 3.8 .6 2.2 .6 5.6 .5-6.1 .6 11.8 .5-1 .6-1.5 .5 3.8 .6 2.1 .6 3.6 .5 3.6 .6-1.3 .5 6.8 .6 1 .6 .4 .5 4.8 .6-2.3 .5 8.4 .6 .7 .6 2.6 .5 2.7 .6 1.2 .5 7.4 .6-1.4 .5 1.1 .6 7 .6-1.3 .5 2.5 .6 2.2 .5 1.7 .6 1.9 .5 1.7 .6 .7 .6 3.8 .5-1.6 .6 5.9 .5 3.6 .6 3.1 .6 3.2 .5 .9 .6 3.5 .5 .5 .6 2.6 .6 2.9 .5 3.2 .6 2.3 .5 3.1 .6-.1 .5 7.4 .6-.7 .6 1.5 .5 3 .6-.2 .5 3 .6 2 .5 3.3 .6 .3 .6 .9 .5 2.3 .6 3.2 .5-.6 .6 2.2 .6 .2 .5 2.2 .6 1.5 .5 .9 .6 2.1 .6 2.7 .5 1.1 .6 2.3 .5 1.7 .6 1.6 .5 2.1 .6 1 .6 1.6 .5 .7 .6 2.3 .5 2.8 .6 0 .5 2.1 .6 .6 .6 2.4 .5 1 .6 2.4 .5 .9 .6 .8 .6 2.7 .5 1.3 .6 1.8 .5 2.7 .6 2.3 .6-.9 .5 2.5 .6 1.2 .5 2 .6 .9 .5 2.7 .6 1.1 .6 1.5 .5 1.2 .6 3.5 .5 .2 .6 1.4 .5 1.4 .6 2.2 .6 .9 .5 1.2 .6 1.4 .5 2.2 .6 1.1 .6 1.6 .5 1.2 .6 1.4 .5 .2 .6 3.7 .6-1.1 .5 3.4 .6 .9 .5 .8 .6 1 .5 .4 .6 1.2 .6 .7 .5 2 .6 2.2 .5-.4 .6 .5 .5 2.1 .6 0 .6 2.5 .5-.6 .6 1.1 .5 .3 .6 .9 .6 2.2 .5-.1 .6 1.1 .5 .5 .6 1.5 .6 .1 .5 .7 .6 1.8 .5-.4 .6 .1 .5 2 .6-.8 .6 1.4 .5 1 .6-.6 .5 1.6 .6 .7 .5 .6 .6 .1 .6 1.5 .5 .5 .6 .5 .5 1.1 .6-.4 .6 .9 .5 .5 .6 .2 .5 1.1 .6 .7 .6 .4 .5 .6 .6 .8 .5 .6 .6 .5 .5 .3 .6 1.1 .6-.7 .5 1.8 .6 .6 .5 .8 .6 .3 .5 .7 .6 .4 .6 .4 .5 1.2 .6 .3 .5 1 .6 .6 .6 1 .5-.1 .6 1.2 .5 .5 .6 1.5 .6-.2 .5 1 .6 .5 .5 .6 .6 1 .5 .4 .6 .4 .6 1.2 .5 .3 .6 .9 .5 .7 .6 .3 .5 .6 .6 .5 .6 .3 .5 .8 .6 .8 .5 .4 .6 .5 .6 .4 .5 .6 .6 .7 .5 .8 .6-.1 .6 1 .5 .4 .6 .1 .5 1 .6 0 .5 1 .6 .7 .6 .1 .5 .3 .6 .7 .5 .1 .6 .8 .5 .2 .6 .9 .6 .3 .5 .6 .6 0 .5 .6 .6 .4 .6 .6 .5 .2 .6-.1 .5 1.4 .6 .1 .6 .1 .5 .4 .6 .4 .5 .8 .6 .3 .5 .7 .6 .1 .6 .3 .5 .6 .6 .3 .5 .4 .6 .6 .5 .4 .6-.1 .6 1.1 .5-.8 .6 .7 .5 0 .6 .8 .6 1.1 .5 0 .6 .2 .5 .5 .6 .5 .6-.3 .5 .3 .6 .5 .5 .6 .6 0 .5 .4 .6 .6 .6 .4 .5 .3 .6 .2 .5 .1 .6 .8 .5 0 .6 .3 .6 0 .5 .8 .6 0 .5 .5 .6 .1 .6 .2 .5 .3 .6 .3 .5 .5 .6 .3 .6 .4 .5 .1 .6 .4 .5 0 .6 .7 .5 0 .6 0 .6 .3 .5-.1 .6 .8 .5 .5 .6-.2 .5 .5 .6 0 .6 .8 .5 .2 .6-.2 .5 .2 .6 .3 .6 .2 .5 .2 .6 .5 .5 .3 .6 0 .6 .2 .5 .3 .6 .3 .5 .1 .6 .2 .5 .3 .6-.2 .6 .2 .5 .8 .6-.1 .5 .3 .6 .2 .5 .6 .6 0 .6 .3 .5 .1 .6-.1 .5 .5 .6-.2 .6 .3 .5 .4 .6 0 .5 0 .6 .7 .6 0 .5 .2 .6 .3 .5 .2 .6 .3 .5-.1 .6 .4 .6 .1 .5-.1 .6 .5 .5 .2 .6-.1 .5 .4 .6 .2 .6 .3 .5 0 .6 .3 .5 .1 .6 .3 .6 .3 .5-.2 .6 .3 .5 0 .6 .5 .6 .2 .5 .3 .6 0 .5 .2 .6 .2 .5 .2 .6 .1 .6 0 .5 .3 .6 .1 .5 .5 .6 0 .5-.2 .6 .7 .6 .1 .5 0 .6 .2 .5 .2 .6 0 .6 .2 .5 .3 .6 0 .5 .2 .6 0 .6 .5 .5 0 .6 .1 .5 .5 .6-.3 .5-.1 .6 .5 .6 0 .5 .3 .6-.1 .5 .4 .6 .5 .5-.1 .6 0 .6 .4 .5-.5 .6 .4 .5 .2 .6 .1 .6 .2 .5-.1 .6 .2 .5 .2 .6 .2 .6 .2 .5 0 .6 .1 .5 .3 .6-.3 .5 .4 .6 0 .6 .4 .5-.1 .6 0 .5 .4 .6-.4 .5 .5 .6 .1 .6-.1 .5 .3 .6-.1 .5 .3 .6 .1 .6 0 .5 0 .6 .1 .5 .3 .6 0 .6 .1 .5 0 .6 .3 .5-.1 .6 .1 .5 .3 .6 0 .6 .1 .5-.2 .6 .3 .5 .1 .6-.1 .5 .3 .6-.2 .6 .4 .5 .4 .6-.1 .5-.1 .6 .1 .6 0 .5 .2 .6 0 .5 .2 .6 0 .6 .1 .5 .1 .6 .1 .5-.1 .6 0 .5 .3 .6 .3 .6-.2 .5 .2 .6-.2 .5 .2 .6 .2 .5 0 .6 .1 .6 .1 .5 0 .6 .2 .5-.1 .6 .3 .6 .1 .5 0 .6 .1 .5 0 .6 .1 .6 .1 .5 0 .6 .2 .5-.1 .6 .1 .5 .1 .6 .5 .6 .1 .5-.3 .6 .2 .5-.1 .6 .2 .5 0 .6 .2 .6 0 .5-.1 .6 .1 .5 .3 .6 0 .6 .1 .5 .1 .6 0 .5-.1 .6 .1 .6 .3 .5 0 .6-.1 .5 .3 .6-.1 .5 .1 .6 .1 .6 .3 .5-.2 .6-.1 .5 .5 .6-.1 .5 .3 .6-.1 .6 0 .5 .1 .6 0 .5 .2 .6 .2 .6-.2 .5 .5 .6-.2 .5 .1 .6-.1 .6 .2 .5 0 .6 .1 .5 0 .6 .1 .5 0 .6 .3 .6 0 .5 0 .6 .1 .5 0 .6 .1 .5 .2 .6 .1 .6-.1 .5 .1 .6 .1 .5 .2 .6 .2 .6-.2 .5 .1 .6 .1 .5 .2 .6-.1 .6 0 .5 .2 .6 0 .5 0 .6 0 .5 0 .6 .2 .6 .2 .5 0 .6-.1 .5 .2 .6 0 .5 0 .6 .1 .6 0 .5 .3 .6-.1 .5 .3 .6-.2 .6 .1 .5 .1 .6 .2 .5-.1 .6 .1 .6 0 .5 0 .6-.1 .5 .3 .6 0 .5 .1 .6 0 .6 .2 .5 0 .6-.1 .5 .1 .6 .1 .5-.2 .6 .2 .6 .2 .5 0 .6 .1 .5 .1 .6 0 .6 .1 .5-.1 .6 .3 .5-.4 .6 .4 .6 0 .5 .2 .6-.2 .5 .1 .6 .3 .5-.1 .6 0 .6 0 .5 .1 .6-.1 .5 .3 .6-.1 .5 .2 .6-.1 .6 .1 .5 .1 .6 0 .5 0 .6 .3 .6 0 .5-.3 .6 .3 .5 0 .6 .1 .6 0 .5-.2 .6 .3 .5 .1 .6 0 .5 .3 .6-.1 .6 .1 .5-.1 .6-.2 .5 .4 .6-.1 .5 .2 .6 .1 .6-.2 .5 .2 .6 .1 .5-.2 .6 .2 .6 .1 .5-.2 .6 .3 .5-.1 .6 .1 .6 0 .5 .1 .6 .1 .5-.2 .6 .1 .5 .2 .6 0 .6 .1 .5 0 .6 .2 .5-.2 .6 .1 .5 0 .6 0 .6 .2 .5 .1 .6 .2 .5-.2 .6-.1 .6 .2 .5 0 .6-.1 .5 .1 .6 .1 .6 0 .5 .1 .6 0 .5 .1 .6 0 .5 .1 .6-.2 .6 .3 .5-.1 .6 0 .5 .2 .6-.1 .5 .1 .6 0 .6 .1 .5 0 .6 .1 .5 0 .6 0 .6 0 .5 .1 .6 .1 .5 0 .6-.1 .6-.1 .5 .3 .6 0 .5 .1 .6-.2 .5 .5 .6-.4 .6 .1 .5 .1 .6 0 .5 .1 .6 0 .5 .1 .6-.2 .6 .2 .5 0 .6 .1 .5 0 .6-.2 .6 .3 .5-.1 .6-.1 .5 .2 .6 .1 .6 0 .5-.1 .6 .2 .5-.1 .6 .1 .5 0 .6 .1 .6 0 .5 .2 .6 0 .5 0 .6-.1 .5 .1 .6-.1 .6 .3 .5-.1 .6-.1 .5 .1 .6 .1 .6-.1 .5 .2 .6-.3 .5 .3 .6-.1 .6 .1 .5-.1 .6 .2 .5-.1 .6 .2 .5 0 .6 0 .6 0 .5 0 .6 0 .5 .1 .6 .3 .5-.3 .6 .1 .6 0 .5 0 .6-.1 .5 .2 .6-.1 .6 .2 .5-.1 .6-.1 .5 .3 .6-.1 .6 .1 .5 .1 .6-.1 .5 0 .6 .1 .5-.2 .6 .4 .6-.1 .5 0 .6 0 .5 0 .6 .2 .5-.1 .6 0 .6 0 .5 0 .6 0 .5 .1 .6 0 .6 .1 .5 0 .6-.2 .5 .2 .6 0 .6 .1 .5-.2 .6 .1 .5 .1 .6-.1 .5 .2 .6-.1 .6 .2 .5-.1 .6 .1 .5-.1 .6 .1 .5 0 .6 0 .6-.1 .5 .2 .6 .1 .5 0 .6-.1 .6-.1 .5 .4 .6-.2 .5 .1 .6-.2 .6 .2 .5 .1 .6-.2 .5-.1 .6 .2 .5 .2 .6-.1 .6 0 .5-.1 .6 .1 .5 .2 .6-.1 .5-.1 .6 .1 .6 0 .5-.1 .6 0 .5 .1 .6 .1 .6 .1 .5 0 .6 0 .5 0 .6 0 .6-.1 .5 0 .6 .2 .5 0 .6 .1 .5-.1 .6-.1 .6 .1 .5 .1 .6 .1 .5-.2 .6 0 .5 .1 .6 .1 .6 0 .5 0 .6-.1 .5 .2 .6 0 .6 .1 .5 .1 .6-.1 .5-.1 .6 0 .6 .1 .5 0 .6 .1 .5-.1 .6 .1 .5 .1 .6-.1 .6-.2 .5 .4 .6-.4 .5 .4 .6-.1 .5-.2 .6 0 .6 .3 .5-.1 .6 0 .5 .1 .6-.1 .6 .1 .5 .1 .6-.1 .5 0 .6 .1 .6 0 .5 0 .6 .1 .5 .1 .6 0 .5-.1 .6 0 .6-.1 .5-.1 .6 .3 .5 0 .6 0 .5 0 .6-.1 .6 .1 .5 0 .6 0 .5 .1 .6-.1 .6 .2 .5-.1 .6 0 .5 0 .6 0 .6 0 .5 0 .6 .1 .5-.1 .6 0 .5 0 .6 .1 .6 .1 .5-.2 .6 0 .5-.1 .6 .2 .5-.1 .6 .1 .6 0 .5-.1 .6 .1 .5 .2 .6 0 .6-.1 .5 0 .6 0 .5 0 .6-.1 .6 .1 .5 .1 .6 0 .5-.2 .6 .1 .5 .3 .6-.3" stroke="#EDB120"/>
<path d="M176.5 628.6l.6-4.5 .5-14.4 .6 23 .5-8.3 .6 4.6 .5-8 .6 6.7 .6 9.8 .5-5.2 .6-1.3 .5 5.3 .6-1.6 .6 3.4 .5 1.2 .6-.3 .5 1 .6-4.9 .6 6.7 .5-.3 .6-18.6 .5 19 .6-2.8 .5 4.6 .6-.8 .6 4.3 .5-1.7 .6 2.6 .5-2.4 .6 2.1 .5 2.4 .6-2.2 .6 1.9 .5-13 .6 16.2 .5-3 .6 2.3 .6-.7 .5 3.5 .6-1.6 .5 1.2 .6 .1 .6 .3 .5-.2 .6-.2 .5 2.7 .6-1.4 .5 2.4 .6 1.7 .6-1.7 .5 .4 .6-.6 .5 .8 .6 .6 .5-.5 .6-.4 .6 1.4 .5 .3 .6-.3 .5 1.5 .6-2.1 .6 3 .5 8 .6-8.7 .5 1.5 .6-.1 .6 0 .5 1.2 .6-.5 .5 .3 .6 1.1 .5-.9 .6 8.4 .6-7.1 .5-.8 .6 .8 .5 1.7 .6-2 .5 1.1 .6 1 .6-.4 .5 .3 .6 1.2 .5-.8 .6 .6 .6 .1 .5-.3 .6 1 .5 1.1 .6-.7 .6 0 .5 .5 .6-.4 .5-.3 .6 .4 .5 .8 .6-.2 .6 .3 .5 .4 .6 0 .5 .8 .6-.2 .5 .5 .6 0 .6 .2 .5 1.4 .6-1.1 .5 1.8 .6-.8 .6 .1 .5-.1 .6 1.5 .5-.8 .6 .6 .6 1.1 .5-.6 .6-.1 .5 1.1 .6-.9 .5 1.7 .6-.4 .6 .1 .5 .9 .6-1.2 .5-.1 .6 .7 .5 1.3 .6-.5 .6 .9 .5 .3 .6 0 .5 1.1 .6 .9 .6-1.6 .5 1.1 .6-.1 .5 .7 .6 .9 .6-.2 .5 .7 .6 .7 .5 .8 .6-.7 .5 .6 .6 .3 .6-.7 .5 1 .6 .5 .5 .9 .6-.1 .5 .5 .6 .5 .6 .7 .5 .5 .6 .2 .5 .5 .6-.2 .6 .9 .5 .3 .6 .1 .5 .8 .6 .9 .6 .2 .5-.3 .6 1.8 .5-.1 .6 .1 .5 .2 .6 .5 .6 .5 .5 .5 .6 .7 .5 .9 .6-.2 .5 1.1 .6-.4 .6 1.1 .5 .9 .6-1.3 .5 1.6 .6 .1 .6 1.1 .5-1 .6 2.2 .5-.5 .6 .2 .6 .9 .5 1.2 .6 .3 .5 .3 .6-.3 .5 .7 .6 0 .6 .8 .5 .5 .6 .7 .5 .5 .6-.6 .5 .7 .6 1.1 .6 .2 .5 .5 .6 .7 .5 .6 .6 0 .6 0 .5 .3 .6 1.3 .5 .8 .6 .1 .6 .8 .5-.8 .6 1.3 .5 .1 .6 .8 .5-.3 .6 1 .6 .2 .5 .7 .6 .3 .5 1.1 .6 .4 .5 .1 .6 .1 .6 .4 .5 .8 .6 .5 .5 1 .6-.4 .6 .9 .5 .5 .6 .4 .5 .9 .6 .3 .6 .5 .5 .5 .6 1 .5 .2 .6 .3 .5 .9 .6 .8 .6 0 .5 1.3 .6 .4 .5 .2 .6 .8 .5 .7 .6 .4 .6 .7 .5 .9 .6 .5 .5 .3 .6 .6 .6 1.1 .5 .3 .6 .5 .5 .7 .6 .9 .6 .3 .5 .2 .6 .9 .5 .8 .6 .3 .5 .7 .6 .7 .6 .6 .5 .7 .6 .5 .5 .6 .6 .6 .5 .3 .6 .7 .6 .7 .5 .2 .6 .9 .5 .3 .6 .7 .6 .7 .5 .6 .6 .5 .5 .5 .6 .5 .6 .8 .5 .5 .6 .6 .5 .2 .6 .6 .5 .8 .6 .5 .6 .7 .5 0 .6 .8 .5 .3 .6 .8 .5 .5 .6 .5 .6 .4 .5 .5 .6 .7 .5 .4 .6 .2 .6 .8 .5 .3 .6 .6 .5 .3 .6 .8 .6 .6 .5 .2 .6 .2 .5 .5 .6 0 .5 .4 .6 .9 .6 .1 .5 .5 .6 .2 .5 .5 .6 .3 .5 .7 .6 0 .6 .4 .5 .4 .6 .3 .5 .3 .6 .3 .6 .3 .5 .2 .6 .3 .5 .1 .6 .6 .6 .4 .5 .2 .6 .3 .5 .3 .6 .2 .5 .3 .6 .2 .6 .5 .5 0 .6 .2 .5 .6 .6-.1 .5-.2 .6 .4 .6 .4 .5-.1 .6 .1 .5 .2 .6 0 .6 .1 .5 0 .6-.1 .5 .2 .6 .1 .6 0 .5-.2 .6 .2 .5-.2 .6-.1 .5 0 .6-.1 .6 .3 .5-.4 .6 0 .5-.2 .6 0 .5-.1 .6-.5 .6-.1 .5 .1 .6-.5 .5 .1 .6-.4 .6-.6 .5-.1 .6-.1 .5-.3 .6-.2 .6-.4 .5-.2 .6-.2 .5-.3 .6-.5 .5-.3 .6-.6 .6 0 .5-.6 .6-.6 .5-.2 .6-.2 .5-.5 .6-.4 .6-.6 .5-.6 .6-.3 .5-.7 .6-.2 .6-.9 .5-.3 .6-.9 .5-.5 .6-.5 .6-.8 .5-.5 .6-.6 .5-.7 .6-.5 .5-.7 .6-.7 .6-.7 .5-.6 .6-.5 .5-.8 .6-.3 .5-1.2 .6 .1 .6-1.2 .5-.5 .6-.5 .5-.8 .6-.9 .6-.2 .5-.8 .6-.2 .5-1.2 .6-.4 .6-1.1 .5-.3 .6-1.1 .5-1 .6-.6 .5-1.3 .6-.5 .6-.8 .5-1.4 .6-.6 .5-1.2 .6-1.5 .5-1.1 .6-1 .6-1.1 .5-1.5 .6-1.3 .5-1.5 .6-1.5 .6-1.5 .5-1.4 .6-2.3 .5-1.1 .6-2.4 .6-1.8 .5-2 .6-2 .5-1.9 .6-2.2 .5-1.9 .6-2.3 .6-1.8 .5-2.3 .6-2.1 .5-1.9 .6-1.8 .5-2.2 .6-1.6 .6-2.6 .5-1.9 .6-2.1 .5-1.2 .6-2 .6-2.3 .5-1.9 .6-1.1 .5-1.5 .6-2.4 .6-1.8 .5-1.2 .6-1.9 .5-1.9 .6-1 .5-2.4 .6-1.2 .6-2.6 .5-2.1 .6-1.7 .5-1.8 .6-1.8 .5-1.6 .6-1.5 .6-2.4 .5-3.2 .6-1.5 .5-1.7 .6-2.1 .6-2.2 .5-2.2 .6-1.3 .5-2.7 .6-1.8 .6-1.7 .5-2 .6-1.8 .5-2.5 .6-3.1 .5-1.2 .6-1.2 .6-1.9 .5-2.5 .6-1.9 .5-2.1 .6-3.2 .5-1.8 .6-2.7 .6-2.2 .5-4.5 .6-1.1 .5-1.9 .6-4 .6-2 .5-3.2 .6-2.6 .5-3.2 .6-2.5 .6-2.9 .5-2.4 .6-5.2 .5-.6 .6-3 .5-3.1 .6-1.9 .6-3.2 .5-3.1 .6-2.9 .5-2.5 .6-2.1 .5-3 .6-2.6 .6-1.2 .5-2.2 .6-3.3 .5-2 .6-3.7 .6 1 .5-5.9 .6-2.7 .5-2.9 .6-5.6 .6-1.6 .5-5.6 .6-4.5 .5-5.9 .6 .2 .5-4.7 .6-3.8 .6-6.2 .5-7.4 .6-3.2 .5-2.9 .6-4.4 .5-8.1 .6-4.4 .6 .3 .5-10.2 .6-3.2 .5-5.7 .6-3.1 .6-13.4 .5 1 .6-5.5 .5-2.7 .6-6.1 .6-6.4 .5-5.8 .6-7.4 .5 .2 .6-5 .5-6.4 .6-4.3 .6-8.8 .5-1.4 .6-4.6 .5-5.3 .6-4.6 .5-2.6 .6 5.1 .6-15.3 .5 3.2 .6-11.9 .5 2.8 .6-3.7 .6-6.6 .5-10.3 .6 1.9 .5-6.5 .6-5.7 .6-1.2 .5-10.8 .6-17.7 .5-9.4 .6 5.5 .5-20.4 .6 19.2 .6-28.1 .5 13.7 .6-22.6 .5-5.2 .6-5 .5-19.2 .6 13 .6 16.9 .5-14.7 .6-18.2 .5 12.3 .6-31.3 .6 23.9 .5-32.6 .6 22.3 .5 6.5 .6-14.2 .6 3.3 .5-4.8 .6-26.9 .5 20.5 .6 2 .5-19 .6 16.7 .6-.4 .5-12.4 .6-12.2 .5 14.9 .6 6.4 .5-2 .6 25.5 .6-23.1 .5-14.5 .6 6.6 .5-12 .6 6.9 .6-41.9 .5 36.7 .6 8.6 .5-3.5 .6 4.2 .6 3.3 .5-9.2 .6 24.6 .5-43.8 .6 5.7 .5 13.7 .6 10.9 .6 1.3 .5 2 .6 0 .5 7.3 .6-13.2 .5-2.9 .6 13.4 .6-8.4 .5 16 .6-35.7 .5 11.9 .6 21.9 .6-14.6 .5 17.8 .6 3.4 .5 6.7 .6 17.8 .6-2.6 .5-14 .6 17.7 .5-6.3 .6 14.4 .5-7.9 .6-6.2 .6 17.8 .5 21.2 .6-14.1 .5 8.7 .6-2.7 .5 18.2 .6 1.3 .6-7.1 .5 8.4 .6 2.3 .5 12.6 .6 3.2 .6-1.7 .5 11.9 .6 13.5 .5 2.5 .6 12.6 .6-1.8 .5 9.8 .6-4.5 .5 3.2 .6 1.7 .5 9.8 .6 7.9 .6-3.4 .5 5 .6 1.8 .5 21.9 .6-3.4 .5 5.1 .6 6 .6 7.9 .5-.9 .6 9.6 .5 11.2 .6 .9 .6 3.7 .5 8.5 .6 2.3 .5 8.5 .6 4.1 .6 6 .5 6.5 .6 .8 .5 7.9 .6 3.4 .5 3.7 .6 7.8 .6 8.3 .5 .3 .6 5.7 .5 2 .6 7.4 .5 2.5 .6 8.2 .6 1.6 .5 4.5 .6 1.8 .5 4.9 .6 3.7 .6 5.8 .5 2.4 .6 1.8 .5 4.6 .6 3.1 .6 4 .5 4 .6 1.2 .5 5.1 .6 3.5 .5 2 .6 4.6 .6 1.3 .5 3.1 .6 3.6 .5 2.7 .6 3 .5 4.1 .6 2.8 .6 2 .5 4.6 .6 1.4 .5 2.4 .6 2.5 .6 2.9 .5 3.4 .6 1.8 .5 2.6 .6 3 .6 2.6 .5 3.2 .6 1.8 .5 3 .6 3.1 .5 1.8 .6 2.6 .6 2.5 .5 2.5 .6 2 .5 2.4 .6 2.4 .5 3.2 .6 1.6 .6 .6 .5 3.4 .6 1.8 .5 2.7 .6 1.4 .6 1.8 .5 1.8 .6 1.1 .5 2.8 .6 2 .6 2 .5 1.5 .6 1.6 .5 .9 .6 2.6 .5 1.6 .6 1.6 .6 3 .5 .9 .6 1.5 .5 2.4 .6 1.4 .5 1.2 .6 1.8 .6 2.2 .5 1.8 .6 1 .5 2 .6 1.8 .6 1.4 .5 1.7 .6 .9 .5 2.8 .6 1 .6 1.7 .5 1.7 .6 1.3 .5 2.2 .6 1.1 .5 1.4 .6 1 .6 1.3 .5 1.7 .6 1.3 .5 1 .6 1.5 .5 1.3 .6 .8 .6 1.6 .5 1.3 .6 1.1 .5 1.7 .6 .7 .6 1 .5 1.2 .6 .9 .5 1.4 .6 1 .6 1.2 .5 1 .6 1.1 .5 .9 .6 1 .5 .8 .6 .9 .6 .8 .5 .9 .6 1 .5 .9 .6 .9 .5 1 .6 .8 .6 .8 .5 .5 .6 1 .5 1.3 .6 .4 .6 1.1 .5 .5 .6 .6 .5 .9 .6 1 .6 .6 .5 .8 .6 .6 .5 .6 .6 .7 .5 .8 .6 .6 .6 .8 .5 .3 .6 .6 .5 1.3 .6 .2 .5 .6 .6 .8 .6 .8 .5 .6 .6 .1 .5 1.1 .6 .2 .6 .4 .5 .9 .6 .2 .5 .6 .6 .5 .6 .5 .5 .6 .6 .3 .5 .6 .6 .6 .5 .6 .6 .3 .6 .1 .5 .7 .6 .9 .5 .3 .6 .4 .5 .5 .6 .6 .6 .3 .5 .4 .6 .4 .5 .4 .6 .4 .6 .4 .5 .9 .6 .1 .5 .4 .6 .4 .6 .4 .5 .3 .6 .5 .5 .6 .6-.1 .5 .3 .6 .6 .6 .5 .5 .3 .6 .2 .5 .5 .6 .3 .5 .4 .6 0 .6 .7 .5 .5 .6 .2 .5 .2 .6 .6 .6 .4 .5 .4 .6 .3 .5 .2 .6 .2 .6 .3 .5 .3 .6 .4 .5 .3 .6 .2 .5 .5 .6 .2 .6 .3 .5 .2 .6 .3 .5 .3 .6 .3 .5 .4 .6 .2 .6 .2 .5 .3 .6 .2 .5 .4 .6 .2 .6 .3 .5 .4 .6 .2 .5 .2 .6 .2 .6 .2 .5 .3 .6 .3 .5 .2 .6 .3 .5 .1 .6 .3 .6 .3 .5 .2 .6 0 .5 .4 .6 0 .5 .5 .6 .3 .6 .1 .5 .1 .6 .5 .5 0 .6 .3 .6 .1 .5 .1 .6 .4 .5 .1 .6 .4 .6 .2 .5 .2 .6 .2 .5 .2 .6 .1 .5 .4 .6 0 .6 .2 .5 .3 .6 .1 .5 .3 .6 .1 .5 .2 .6 .1 .6 .1 .5 .2 .6 .3 .5 .2 .6 .2 .6 .1 .5 .2 .6 .1 .5 .2 .6 .2 .6 .1 .5 .3 .6 .1 .5 .1 .6 .2 .5 .2 .6 .1 .6 .3 .5 .1 .6 .2 .5 .1 .6 .1 .5 0 .6 .2 .6 .3 .5 .1 .6 .1 .5 .3 .6 .2 .6 .3 .5-.1 .6 .1 .5 .2 .6 .1 .6 .2 .5 .1 .6 .1 .5 .2 .6 .2 .5 0 .6 .2 .6 .1 .5 .2 .6 .2 .5 0 .6 .2 .5 0 .6 .2 .6 0 .5 .2 .6 0 .5 .3 .6 .1 .6 .1 .5 .1 .6 .1 .5 .1 .6 .1 .6 .2 .5 .1 .6 .1 .5 .1 .6 .2 .5-.1 .6 .3 .6-.2 .5 .2 .6 .2 .5 0 .6 .4 .5-.1 .6 .1 .6 .1 .5 0 .6 .4 .5-.2 .6 .3 .6 0 .5 .1 .6 .1 .5-.1 .6 .2 .6 .2 .5 0 .6 .1 .5 0 .6 .4 .5-.2 .6 .1 .6 0 .5 .3 .6 0 .5 0 .6 .1 .5 .2 .6 .2 .6-.1 .5 0 .6 .1 .5 .1 .6 0 .6 .2 .5 0 .6 .1 .5 .1 .6 .1 .6 0 .5 .1 .6 .1 .5 .1 .6-.1 .5 .2 .6 .2 .6 0 .5 0 .6 .3 .5-.3 .6 .2 .5 .3 .6-.1 .6 .1 .5 .1 .6 .1 .5 .2 .6-.1 .6 .1 .5 .1 .6 0 .5 .1 .6 .2 .6 .1 .5 0 .6 .1 .5 0 .6 .2 .5 .2 .6-.2 .6 .2 .5 .2 .6-.1 .5 .2 .6 0 .5 .1 .6 0 .6 .2 .5-.1 .6 0 .5 .1 .6 .2 .6 .1 .5-.1 .6 .2 .5 .1 .6 0 .6 .2 .5-.1 .6 .1 .5 .2 .6 0 .5 .1 .6 0 .6-.1 .5 .2 .6 .1 .5 0 .6 .2 .5 0 .6 0 .6 .1 .5 0 .6 0 .5 .1 .6 .2 .6 0 .5 0 .6-.1 .5 .1 .6 .1 .6 0 .5 .1 .6 0 .5 .3 .6-.1 .5-.1 .6 .2 .6 0 .5 0 .6 .1 .5-.1 .6 .2 .5-.2 .6 .2 .6 0 .5 0 .6 .1 .5 .1 .6 .1 .6-.1 .5 .1 .6 .2 .5-.1 .6-.1 .6 .2 .5 0 .6 0 .5 .1 .6-.1 .5 .1 .6 .2 .6 0 .5 0 .6-.1 .5 .1 .6 .1 .5-.2 .6 .3 .6-.1 .5 0 .6 0 .5 .2 .6 0 .6 .1 .5-.1 .6 .1 .5 .1 .6 0 .6 .1 .5-.1 .6 .1 .5 0 .6 .1 .5 0 .6 0 .6 .1 .5 0 .6 .1 .5-.1 .6 .1 .5 .1 .6 0 .6-.1 .5 .3 .6-.1 .5-.1 .6 .2 .6 0 .5 0 .6 0 .5 .1 .6-.1 .6 .2 .5-.1 .6 0 .5 .1 .6 0 .5 .1 .6 0 .6-.1 .5 .2 .6 0 .5 0 .6-.1 .5 .2 .6 .1 .6-.1 .5 .1 .6 0 .5 0 .6 0 .6 0 .5 .1 .6 .2 .5-.2 .6 .3 .6-.2 .5 .3 .6-.2 .5 0 .6 .2 .5-.1 .6 0 .6 .1 .5-.1 .6 .1 .5 0 .6 0 .5 .1 .6 .1 .6-.1 .5 .1 .6 0 .5 .1 .6-.1 .6 .1 .5 0 .6 0 .5 .1 .6 0 .6 0 .5 .1 .6-.1 .5 .1 .6 .1 .5 0 .6 0 .6 0 .5 .1 .6 0 .5 0 .6 .1 .5-.1 .6 .1 .6 .1 .5-.1 .6 .1 .5-.2 .6 .2 .6 .1 .5-.1 .6 .2 .5-.2 .6 .2 .6 0 .5-.2 .6 .2 .5 .1 .6 0 .5 0 .6 0 .6 .1 .5 0 .6 0 .5 0 .6 .1 .5 0 .6-.1 .6 .2 .5-.2 .6 .2 .5 0 .6 .1 .6-.1 .5 .1 .6 0 .5 0 .6 .1 .6 .1 .5-.2 .6 .1 .5 0 .6 .1 .5 .1 .6 0 .6 0 .5 0 .6-.1 .5 .1 .6 0 .5 .1 .6 .1 .6-.1 .5 .1 .6 0 .5 0 .6 .1 .6-.1 .5 .1 .6-.1 .5-.1 .6 .3 .6-.1 .5 0 .6 .1 .5-.1 .6 .1 .5 .2 .6 0 .6-.1 .5 0 .6 .1 .5 0 .6 .2 .5-.1 .6-.1 .6 .1 .5 0 .6 .1 .5 0 .6-.1 .6 .1 .5 0 .6-.1 .5 .3 .6-.1 .6 0 .5 0 .6 0 .5 0 .6 0 .5 .1 .6 .1 .6 0 .5 0 .6 .1 .5 0 .6-.1 .5-.1 .6 .1 .6 .1 .5 0 .6 0 .5-.1 .6 .2 .6-.1 .5 .1 .6 .1 .5 0 .6 .2 .6-.2 .5 0 .6 0 .5 .1 .6 0 .5 0 .6 0 .6 0 .5 .1 .6 0 .5 0 .6-.1 .5 .2 .6-.1 .6 .1 .5 .2 .6-.2 .5 .1 .6 0 .6 0 .5 0 .6 0 .5 0 .6 .1 .6 .1 .5-.1 .6-.1 .5 .2 .6-.1 .5 .1 .6 0 .6 .1 .5-.1 .6 .1 .5-.1 .6 .1 .5 0 .6 0 .6 .1 .5-.2 .6 .2 .5-.1 .6 .2 .6-.1 .5 .1 .6 .1 .5-.1 .6 0 .6 0 .5 .1 .6 0 .5 0 .6 0 .5 .1 .6-.1 .6 .1 .5 0 .6-.1 .5 .1 .6 .1 .5-.2 .6 .2 .6 0 .5 0 .6 0 .5 0 .6 .2 .6-.1 .5 0 .6 0 .5 0 .6 0 .6 .2 .5-.1 .6 0 .5 0 .6 0 .5 .1 .6-.1 .6 .2 .5-.1 .6-.1 .5 .1 .6 0 .5 .1 .6-.1 .6 .1 .5 .1 .6-.1 .5 0 .6 .1 .6-.1 .5 .2 .6-.2 .5 .1 .6 .1 .6-.1 .5 .1 .6 0 .5 .1 .6-.1 .5 0 .6 0 .6 .2 .5-.1 .6 0 .5 .1 .6-.1 .5 .1 .6 .1 .6-.1 .5 0 .6 0 .5 .1 .6 0 .6 .1 .5-.2 .6 .3 .5-.3 .6 .1 .6 0 .5 .1 .6 0 .5 0 .6 .1 .5 0 .6 0 .6 0 .5 0 .6 0 .5 0 .6 0 .5-.1 .6 .1 .6 .1 .5 0 .6-.1 .5 .1 .6 0 .6 0 .5 0 .6 .1 .5-.1 .6 .1 .6-.1 .5 .1 .6 0 .5 0 .6 0 .5 0 .6 .1 .6 0 .5 0 .6 0 .5 .1 .6-.1 .5 0 .6 .1 .6 0 .5 .1 .6-.1 .5 .1 .6-.1 .6 0 .5 0 .6 .1 .5-.1 .6 .1 .6-.1 .5 .1 .6 .1 .5-.1 .6 .1 .5-.2 .6 .3 .6-.1 .5 .1 .6-.1 .5 .1 .6-.1 .5 .1 .6 0 .6-.1 .5 .2 .6-.1 .5 .1 .6-.1 .6 0 .5 .1 .6-.1 .5 .1 .6 0 .6-.1 .5 .1 .6 .1 .5 0 .6-.1 .5-.1 .6 .2 .6 0 .5 0 .6 0 .5 .2 .6-.2 .5-.1 .6 .2 .6 0 .5-.1 .6 .1 .5 0 .6 0 .6 0 .5 0 .6 .1 .5-.1 .6 .1 .6-.1 .5 .1 .6-.1 .5 .1 .6 0 .5 0 .6 0 .6 .1 .5-.1 .6 0 .5 .1 .6 0 .5-.1 .6 .1 .6 0 .5 0 .6 0 .5 .2 .6-.2 .6 .1 .5-.1 .6 .1 .5-.1 .6 .1 .6-.1 .5 0 .6 .2 .5-.1 .6-.1 .5 .1 .6-.1 .6 .2 .5-.1 .6 0 .5 .1 .6-.1 .5 .1 .6 0 .6-.1 .5 .1 .6 .1 .5 0 .6-.1 .6 0 .5 .1 .6 0 .5-.1 .6 .1 .6-.2 .5 .2 .6-.2 .5 .1 .6 0 .5 0 .6 0" stroke="#77AC30"/>
<path d="M176.5 671.4l.6-1.4 .5 6.7 .6 1.3 .5-12.4 .6 3.6 .5 2 .6 6.4 .6-4 .5 0 .6 2.2 .5 .8 .6-1.2 .6 8.1 .5-5.7 .6 1.6 .5-.5 .6-10.6 .6 11.6 .5-2 .6 .4 .5 1.5 .6 .3 .5 1.7 .6 1.3 .6-1.6 .5 3.7 .6-1.4 .5 .7 .6 2.9 .5 .1 .6-.4 .6 .1 .5 2.5 .6 .8 .5 .5 .6 1.3 .6 1.2 .5 .5 .6 .6 .5 .4 .6 1.2 .6 .3 .5 1.5 .6 .5 .5-1.1 .6 1.6 .5-.2 .6-.7 .6 2 .5-.8 .6 1 .5-.4 .6-.2 .5 .1 .6 .4 .6 .6 .5 .1 .6 .8 .5 .4 .6-2 .6 2.7 .5-2.2 .6 1.7 .5-.7 .6 .4 .6-.1 .5-.1 .6 .7 .5-.7 .6 .3 .5 .3 .6 .1 .6 .3 .5-1.4 .6 1.6 .5 .3 .6-.3 .5-.7 .6 0 .6 .9 .5 .3 .6-.3 .5 .4 .6-.3 .6 0 .5 .4 .6-.9 .5 1.2 .6-1 .6 1.3 .5 .6 .6-.4 .5 0 .6 .5 .5 .5 .6-.2 .6-.3 .5 .8 .6 1.1 .5-1.8 .6-.4 .5 .8 .6 .3 .6 .3 .5 .3 .6 .1 .5 0 .6 .6 .6 .3 .5-.4 .6 .3 .5-1 .6 1.5 .6 .1 .5 .7 .6 .8 .5-.6 .6-.4 .5-.7 .6 1.7 .6 .1 .5-.5 .6 .6 .5 .9 .6-1.3 .5 1.2 .6-.2 .6-.1 .5 .1 .6-.4 .5 1 .6 .7 .6 .5 .5-.6 .6 .3 .5 .5 .6 .4 .6-.1 .5 .3 .6 .2 .5 .2 .6-.1 .5 .5 .6-.2 .6 .7 .5 .4 .6-.6 .5 .8 .6 0 .5 .9 .6-1 .6 1.2 .5 .4 .6 .4 .5 .6 .6 .6 .6-.3 .5 .1 .6 .1 .5 .4 .6 .9 .6-.1 .5 .9 .6 0 .5-.3 .6 0 .5 .7 .6-.5 .6-.3 .5 1.2 .6 1 .5-.1 .6-.1 .5-.3 .6-.1 .6 1 .5 0 .6 1.2 .5-.3 .6 .3 .6 .5 .5 0 .6 .2 .5-.5 .6 1.6 .6-.1 .5 .4 .6 .2 .5 .1 .6 .2 .5-.4 .6 1 .6 .2 .5 .5 .6 .2 .5 .3 .6 0 .5 .5 .6 .3 .6 .1 .5 1.1 .6-.9 .5 1.2 .6-.2 .6-.6 .5 1.4 .6 .7 .5-.3 .6 .2 .6 .5 .5 .4 .6 0 .5 .4 .6 .5 .5 .2 .6 .1 .6 .6 .5 .4 .6 .2 .5 .4 .6 .7 .5-.4 .6 1.1 .6-.1 .5 .5 .6 .1 .5 .6 .6 .1 .6 .6 .5 .5 .6 .1 .5 .3 .6 .6 .6-.1 .5 .7 .6 0 .5 1 .6-.2 .5 .6 .6 .1 .6 .9 .5 .3 .6 .1 .5 .6 .6 .6 .5 .4 .6-.1 .6 .8 .5 .9 .6 .1 .5 .3 .6 .6 .6 .3 .5 .3 .6 .9 .5 .2 .6 .1 .6 1.2 .5 .3 .6 0 .5 .6 .6 .5 .5 .3 .6 .9 .6 .9 .5-.2 .6 .6 .5 .6 .6 .4 .5 .9 .6 .3 .6 .4 .5 .3 .6 .8 .5 .8 .6 .4 .6 .3 .5 .4 .6 .4 .5 .5 .6 .4 .6 .6 .5 .5 .6 .5 .5 .5 .6 .4 .5 .1 .6 1.1 .6 .3 .5 .7 .6 .4 .5 0 .6 .8 .5 .4 .6 .6 .6 .3 .5 .9 .6 0 .5 .1 .6 .7 .6 .4 .5 .5 .6 .5 .5 .2 .6 .6 .6 .4 .5 .3 .6 0 .5 .7 .6 .4 .5 .6 .6 .1 .6 .5 .5 .3 .6 .4 .5 .3 .6 .8 .5 .2 .6 .2 .6 .4 .5 .2 .6 .5 .5 .4 .6 .1 .6 .6 .5-.1 .6 .5 .5 .3 .6 .2 .6 0 .5 .7 .6 .3 .5 .2 .6 .2 .5 .1 .6 .6 .6 .4 .5 0 .6 .2 .5 .1 .6 .2 .5 .2 .6 .2 .6 .2 .5-.1 .6 .5 .5 .2 .6 .1 .6-.4 .5 .1 .6 0 .5 .1 .6-.1 .6 .1 .5 .1 .6 .1 .5-.2 .6 0 .5-.3 .6 .1 .6 0 .5-.1 .6-.1 .5-.1 .6-.4 .5 .2 .6-.3 .6-.1 .5-.5 .6 .2 .5-.4 .6 0 .6-.4 .5-.5 .6-.1 .5 .1 .6-.9 .6 0 .5-.3 .6-.5 .5-.1 .6-.2 .5-.5 .6-.4 .6-.3 .5-.3 .6-.5 .5-.2 .6-.4 .5-.5 .6-.6 .6-.5 .5-.4 .6-.7 .5-.5 .6-.6 .6-.3 .5-.8 .6-.4 .5-.7 .6-.6 .6-.6 .5-.7 .6-.8 .5-.4 .6-.5 .5-.8 .6-.4 .6-.9 .5-.5 .6-.5 .5-.8 .6-.3 .5-.5 .6-.9 .6-.7 .5-.7 .6-.5 .5-.7 .6-1.1 .6-.6 .5-.2 .6-.5 .5-.7 .6-.9 .6-.7 .5-.8 .6-.3 .5-.7 .6-.7 .5-1 .6-1 .6-.4 .5-.7 .6-.9 .5-.8 .6-.9 .5-.7 .6-.7 .6-1.2 .5-.9 .6-.9 .5-1.7 .6-.6 .6-.9 .5-1.7 .6-.2 .5-1.3 .6-1.5 .6-1.4 .5-.8 .6-.7 .5-1.4 .6-.8 .5-1.1 .6-1.9 .6-.2 .5-1.5 .6-1.2 .5-1.7 .6-1.1 .5-.9 .6-1.4 .6-1.8 .5-.4 .6-.9 .5-1.7 .6-.7 .6-1.6 .5-1 .6-.6 .5-2 .6-1.3 .6-.8 .5-1 .6-2.4 .5-.1 .6-1.2 .5-1.3 .6-1 .6-1.2 .5-2 .6 0 .5-2.1 .6-.8 .5-.3 .6-1.6 .6-1.6 .5-1 .6-.9 .5-1.1 .6-1.9 .6-.7 .5-1 .6-1.6 .5-.2 .6-1.3 .6-1.6 .5-.7 .6-1.2 .5-1.6 .6-2 .5-.6 .6-1 .6-.9 .5-1.5 .6-.8 .5-1.4 .6-1.2 .5-1.9 .6-2.1 .6-.8 .5-.8 .6-1.9 .5-1.2 .6-2.1 .6-1.1 .5-1.3 .6-1.7 .5-1.2 .6-2.3 .6-1.7 .5-1.9 .6-2 .5-2.5 .6-1.4 .5-1.4 .6-1.5 .6-1.4 .5-2.4 .6-.5 .5-1.6 .6-3 .5-.9 .6-2.9 .6-1.3 .5-1.4 .6-2.8 .5 .3 .6-2.1 .6-2 .5-3.2 .6 1 .5-3 .6-2.7 .6 .2 .5-2.9 .6-1.8 .5-1.4 .6-2.1 .5-3.4 .6-.7 .6-2.3 .5-2.5 .6-.5 .5-5.3 .6-.3 .5-7 .6-2.7 .6-1.5 .5-3.5 .6-1.9 .5-2.4 .6-3.7 .6-3.3 .5-1.5 .6-5 .5-2 .6-3.7 .6-2.6 .5-3.3 .6-5.4 .5-2.6 .6-.1 .5-6.3 .6-4.4 .6-1.5 .5-2.9 .6-1.6 .5-4.3 .6-1.8 .5-5.5 .6-1.1 .6-1.5 .5-5.3 .6-1.9 .5-.5 .6-2.9 .6 .7 .5-8.8 .6 .9 .5-4.8 .6-4.9 .6-1.1 .5-2.9 .6-.6 .5-2.5 .6-7.2 .5-.5 .6-10.1 .6 7.1 .5-7.7 .6-2.1 .5-8.2 .6-1.4 .5 1.2 .6-1.7 .6-4 .5-8.6 .6-3.4 .5-2.5 .6-2.7 .6-3.4 .5-4.2 .6 .6 .5-9.9 .6-3.9 .6-3.2 .5-1.1 .6-4 .5-16.3 .6-1.7 .5 .4 .6-4.6 .6-.9 .5-8.4 .6-.1 .5-.7 .6-4.4 .5 5.9 .6-7.4 .6-6.6 .5 2.9 .6-1.9 .5-1.2 .6-8.5 .6 10.5 .5-5.9 .6 1.5 .5 1.9 .6 5.5 .6-10.2 .5 4.4 .6-4.8 .5 .9 .6 0 .5-6.8 .6 12 .6-7.3 .5 1 .6 3.7 .5-3.9 .6-6.1 .5 8.5 .6-5.4 .6 4.1 .5-2.6 .6-.3 .5-19.1 .6 16 .6 5 .5 2.5 .6 .3 .5-15.3 .6 4.6 .6-7.3 .5 18.9 .6-3.8 .5 11 .6-12.6 .5 17.4 .6-3 .6-6.7 .5-.6 .6 12 .5-9.5 .6-13.5 .5 9.4 .6 11.1 .6-12.4 .5 5.7 .6-11.5 .5 13.8 .6 .6 .6-2.8 .5 2.3 .6 2.6 .5-1.6 .6-.2 .6 3.7 .5-4.3 .6 2.4 .5 1.4 .6 2.8 .5 5.8 .6-2.2 .6 7.5 .5 3.3 .6-1.3 .5 6.3 .6 4 .5-1.5 .6-4.8 .6 18.4 .5-2.6 .6 7.7 .5-1.5 .6 3 .6 3.7 .5 9.4 .6-4.6 .5 4.2 .6 2.5 .6 2.3 .5 0 .6 7 .5-1.3 .6 8.9 .5 .7 .6 4.8 .6 1.3 .5-1.1 .6 .2 .5 8.8 .6 3.9 .5 2.4 .6-.9 .6 6 .5 4.2 .6-.8 .5 4.7 .6 3.1 .6-.2 .5 4.4 .6 9 .5-6.5 .6 7.1 .6 4.1 .5-1.2 .6 5.5 .5 1.9 .6 2.4 .5 5 .6-2.8 .6 6.9 .5 5.7 .6-.1 .5 6.9 .6-5.2 .5 6.1 .6 3.6 .6 1.3 .5 2.8 .6 3.2 .5 4.1 .6 3.7 .6-.4 .5 2.5 .6 4.6 .5 2.5 .6 2.6 .6 3 .5 0 .6 4.4 .5 2.1 .6 2.7 .5 4.1 .6 2.5 .6 1.6 .5 1.1 .6 1.8 .5-.4 .6 3.3 .5 2.7 .6 2.6 .6 2 .5 1.2 .6 2.5 .5 1.2 .6 2.1 .6 3.5 .5 .4 .6 3.9 .5 1.3 .6-.1 .6 3.9 .5 1.6 .6 1.8 .5 3.7 .6 1.1 .5 2.8 .6 3.1 .6 1.6 .5 1.8 .6 .9 .5 1.9 .6 1.3 .5 2.8 .6 1.1 .6 2.5 .5 1.7 .6 1.3 .5 2 .6 0 .6 3.5 .5 1.9 .6 .6 .5 1.7 .6 2.9 .6 1.3 .5 1.5 .6 2.6 .5 .9 .6 1.2 .5 1.6 .6 2.5 .6 1.4 .5 1.6 .6 1.2 .5 2.3 .6-.2 .5 3.4 .6 1 .6 1.3 .5 .8 .6 2.2 .5 1 .6 1.9 .6 1.6 .5 1.1 .6 1.1 .5 1.3 .6 1 .6 1.4 .5 1.3 .6 1 .5 1.1 .6 2.1 .5 .2 .6 .8 .6 .9 .5 1.2 .6 .8 .5 1.1 .6 1.1 .5 1.1 .6 .4 .6 .7 .5 1.3 .6 1.3 .5 .5 .6 1.1 .6 .3 .5 2.4 .6-.3 .5 1.1 .6 .5 .6 1.1 .5 1.8 .6-.2 .5 .9 .6 1 .5 .9 .6 .5 .6 .6 .5 .8 .6 1.6 .5 .1 .6 .3 .5 .8 .6 .6 .6 .8 .5 .8 .6 .3 .5 1.1 .6 1 .6 .2 .5 .6 .6 .8 .5-.1 .6 1.4 .6 .8 .5 .2 .6 1 .5 .5 .6 .5 .5 .8 .6 .4 .6 1 .5 .3 .6 1 .5 .3 .6 0 .5 1.1 .6 .4 .6 1.1 .5 .8 .6 .5 .5 .4 .6 1 .6 .3 .5 .8 .6 .1 .5 1 .6 .6 .6 .7 .5 .4 .6 .2 .5 1 .6 .5 .5 .6 .6 1 .6 .2 .5 .5 .6 .6 .5 .7 .6 .6 .5 .5 .6 1 .6 .2 .5 .5 .6 .4 .5 .3 .6 .8 .6 .6 .5 .4 .6 .7 .5 .9 .6 .1 .6 .5 .5 .5 .6 .4 .5 .6 .6 .4 .5 1.1 .6-.4 .6 1 .5 .4 .6 .5 .5 .6 .6 .5 .5 .1 .6 .7 .6 .1 .5 .9 .6 .3 .5 .5 .6 .8 .6 0 .5 .5 .6 .4 .5 .6 .6 .2 .6 .4 .5 .2 .6 .5 .5 .1 .6 .4 .5 .7 .6 .6 .6 .3 .5 .6 .6 .1 .5 .5 .6 .3 .5 .3 .6 .7 .6-.1 .5 .9 .6 0 .5 .5 .6 .6 .6 0 .5 .4 .6 .5 .5-.1 .6 .6 .6 0 .5 .5 .6 .4 .5 .6 .6-.1 .5 .7 .6 0 .6 .4 .5 .3 .6 .5 .5 .1 .6 .7 .5-.2 .6 .3 .6 .6 .5 .1 .6 .4 .5 .1 .6 .5 .6 .3 .5 .2 .6-.1 .5 .5 .6 .4 .6 .1 .5 .5 .6 .3 .5 0 .6 .7 .5-.1 .6 0 .6 .8 .5-.1 .6 .3 .5 .6 .6 0 .5 .3 .6 .2 .6 .2 .5 .3 .6 .5 .5 0 .6 .2 .6 .1 .5 .2 .6 .2 .5 .3 .6 0 .6 .4 .5 .3 .6 .4 .5-.1 .6 .2 .5 .4 .6 0 .6 0 .5 .4 .6 .3 .5 0 .6 .3 .5 .5 .6 .1 .6-.3 .5 .6 .6-.1 .5 .6 .6-.1 .6 .2 .5 .1 .6 .3 .5 .1 .6 0 .6 .3 .5 .3 .6-.1 .5 .1 .6 .3 .5 .2 .6 .5 .6 0 .5 0 .6 .2 .5-.3 .6 .4 .5 .3 .6 0 .6 .3 .5-.1 .6 .3 .5 .1 .6 .3 .6 0 .5 .1 .6 .2 .5 .3 .6-.1 .6 .1 .5 .2 .6-.2 .5 .4 .6 0 .5 .6 .6-.2 .6 .1 .5 .2 .6-.1 .5 .5 .6-.1 .5 .2 .6-.2 .6 .3 .5 .3 .6 .1 .5 .3 .6-.1 .6-.1 .5 .1 .6 .2 .5 .2 .6 .1 .6 .1 .5 0 .6 .5 .5 0 .6 0 .5 .2 .6-.2 .6 .6 .5-.4 .6 .5 .5 .1 .6 0 .5 .1 .6-.1 .6 .4 .5 0 .6 .1 .5 0 .6 .4 .6 .1 .5 .4 .6-.1 .5 .1 .6 .2 .6-.1 .5 .3 .6 .2 .5 .2 .6 .2 .5-.2 .6 .2 .6 .1 .5 .2 .6-.1 .5 .3 .6 .1 .5 .1 .6 0 .6 .2 .5 .1 .6 .3 .5-.1 .6 .2 .6 .2 .5 0 .6 0 .5 .3 .6 .1 .6 .1 .5 .1 .6 .1 .5 .3 .6 .1 .5 .1 .6 0 .6 .3 .5-.1 .6-.1 .5 0 .6 .6 .5-.2 .6 .3 .6-.2 .5 .5 .6 0 .5 0 .6 .3 .6-.2 .5 .1 .6 0 .5-.1 .6 .3 .6 .1 .5-.2 .6 .4 .5-.1 .6 .2 .5 .3 .6-.1 .6 0 .5 .3 .6-.2 .5 0 .6 .2 .5 0 .6 .1 .6 0 .5 .2 .6 .1 .5 0 .6 .1 .6 .1 .5 .1 .6 0 .5 .1 .6 0 .6 0 .5 .1 .6 0 .5 .2 .6 .1 .5-.1 .6 .3 .6-.1 .5 .1 .6 0 .5 .1 .6 .1 .5 .1 .6 .2 .6-.3 .5 .1 .6 .2 .5 0 .6 .3 .6-.1 .5 0 .6 .1 .5 .1 .6 .2 .6-.3 .5 .2 .6 .2 .5-.1 .6 .1 .5 .2 .6-.1 .6 .1 .5 .1 .6 .1 .5 0 .6 0 .5 .1 .6 .2 .6-.1 .5 .1 .6 .1 .5 0 .6 .1 .6-.1 .5 .2 .6 0 .5 .1 .6 .1 .6 .1 .5 0 .6 .1 .5-.1 .6 .2 .5-.1 .6 .3 .6 0 .5 .2 .6-.3 .5 .4 .6-.1 .5 0 .6 .1 .6-.2 .5 .1 .6 .3 .5 .1 .6-.1 .6 .1 .5 .1 .6 0 .5-.1 .6 .2 .6 .1 .5 0 .6 .1 .5-.2 .6 .3 .5 .3 .6-.3 .6 .2 .5 0 .6 .1 .5 0 .6 0 .5 0 .6 .1 .6 .1 .5 .1 .6 0 .5 .1 .6 .1 .6 0 .5 .1 .6 0 .5 .1 .6 0 .6 .1 .5 0 .6 .2 .5-.1 .6 .1 .5-.1 .6 .2 .6 .1 .5-.1 .6 .1 .5 0 .6 .1 .5 0 .6 0 .6 .2 .5-.3 .6 .4 .5-.2 .6 .2 .6 0 .5 .1 .6-.1 .5 .1 .6 .1 .6 .1 .5 .1 .6-.2 .5 0 .6 .2 .5 0 .6 0 .6 .1 .5 .1 .6 0 .5 .1 .6-.1 .5 .1 .6 .1 .6 .1 .5-.3 .6 .4 .5-.1 .6 0 .6 .1 .5-.2 .6 .4 .5-.1 .6 .1 .6 0 .5 0 .6 0 .5 0 .6 .3 .5-.2 .6 .1 .6 0 .5 .1 .6 0 .5 .2 .6-.1 .5 0 .6 .1 .6 0 .5 0 .6 .1 .5-.1 .6 .1 .6 0 .5 .1 .6-.1 .5 .1 .6-.1 .6 .4 .5-.3 .6 .2 .5-.1 .6 .3 .5-.2 .6 .1 .6 0 .5 .1 .6 0 .5 .1 .6 0 .5 0 .6 0 .6 .2 .5-.1 .6 .1 .5 0 .6 0 .6-.1 .5 .1 .6 0 .5 .2 .6-.1 .6 0 .5-.1 .6 .2 .5 0 .6-.1 .5 .3 .6-.1 .6 0 .5 0 .6 .1 .5 .2 .6-.1 .5 0 .6 .1 .6-.2 .5 .3 .6-.2 .5 .1 .6 .1 .6 0 .5 0 .6 .1 .5 0 .6 .1 .6-.2 .5 .2 .6 0 .5 0 .6 .1 .5-.1 .6 .1 .6 .1 .5 .1 .6-.1 .5 .2 .6-.2 .5 .1 .6 .2 .6-.3 .5 .1 .6 .1 .5-.1 .6 .2 .6 .1 .5-.1 .6-.1 .5 .3 .6-.1 .6 .1 .5-.1 .6 .2 .5-.1 .6 .1 .5 0 .6 0 .6 0 .5 .2 .6-.1 .5 .1 .6 0 .5 0 .6 .1 .6-.2 .5 .2 .6 0 .5 0 .6 .2 .6-.1 .5 0 .6 0 .5 0 .6-.1 .6 0 .5 .2 .6 .1 .5 0 .6 .1 .5-.1 .6 .1 .6-.2 .5 .5 .6-.3 .5 .1 .6 0 .5 .1 .6-.1 .6 .1 .5 0 .6-.1 .5 .3 .6-.2 .6 .2 .5 0 .6 0 .5 .1 .6 0 .6-.2 .5 .2 .6 0 .5 .3 .6-.2 .5 0 .6 .1 .6 .1 .5-.1 .6 0 .5 .1 .6 .1 .5-.1 .6 0 .6 0 .5 .1 .6 .1 .5 0 .6 0 .6 .1 .5 0 .6 0 .5-.2 .6 .3 .6 0 .5 0 .6 0 .5 .1 .6 0 .5 0 .6 0 .6 .1 .5 0 .6 0 .5 0 .6 .1 .5-.1 .6 .1 .6 .1 .5 .1 .6-.1 .5 .2 .6-.3 .6 .2 .5 0 .6 0 .5 .1 .6 0 .6-.1 .5 .3 .6-.3 .5 .2 .6 0 .5-.1 .6 .1 .6 .1 .5-.2 .6 .4 .5-.2 .6 .1 .5-.1 .6 .3 .6-.1 .5 0 .6 .1 .5-.1 .6 0 .6 0 .5 .1 .6 0 .5-.2 .6 .4 .6-.2 .5 .1 .6-.1 .5 .1 .6 0 .5 .2 .6-.1 .6 0 .5 .1 .6 0 .5-.1 .6 .1 .5 0 .6 .1 .6 0 .5 0 .6-.1 .5 0 .6 .1 .6 .1 .5 0 .6 0 .5 .1 .6-.2 .6 .2 .5 .2 .6-.2 .5-.1 .6 .2 .5 0 .6-.2 .6 .1 .5 .1 .6 .1 .5 0 .6 0 .5-.1 .6 .1 .6-.1 .5-.1 .6 .2 .5 .1 .6 0 .6 0 .5 0 .6 0 .5 0 .6 .1 .6 0 .5 0 .6 0 .5 .2 .6-.2 .5 0 .6 .2 .6-.1 .5 .1 .6-.1 .5 0 .6-.1 .5 .2 .6 .1 .6-.3 .5 .1 .6 .3 .5-.2 .6 .1 .6 0 .5 0 .6 .2 .5-.1 .6 0 .6 0 .5 .1 .6-.1 .5 .1 .6 .1 .5-.1 .6 0 .6 0 .5 0 .6 0 .5 .1 .6-.1 .5 0 .6 .1 .6 0 .5 0 .6 0 .5 0 .6 .2 .6-.1 .5-.1 .6 .1 .5-.1 .6 .1 .6 .1 .5-.2 .6 .1 .5-.2 .6 .1 .5 0 .6 .1 .6 .2 .5 0 .6-.1 .5 0 .6 0 .5 0 .6-.1 .6 .1 .5-.1 .6 .1 .5-.1 .6 .2 .6 .1 .5-.2 .6 0 .5 .1 .6 0 .6 0 .5 0 .6-.1 .5 .1 .6-.1 .5 0 .6 0" stroke="#4DBEEE"/>
<path d="M176.5 648.3l.6 15.2 .5 2.8 .6 .6 .5 13.1 .6-21 .5 13.8 .6-2.8 .6 4.9 .5-.5 .6 2.5 .5-.5 .6 6.1 .6 .5 .5 3.5 .6-.7 .5-2.1 .6-1.8 .6 14.6 .5-8.1 .6 2.7 .5 6.2 .6 0 .5-3 .6 5.3 .6-2.9 .5 4 .6-3.3 .5 6 .6 3.1 .5-1 .6 12.8 .6-8 .5-2.7 .6 .2 .5-.3 .6 3.3 .6 .8 .5 1.7 .6-3 .5 2.5 .6 .8 .6 .4 .5-.2 .6 1.8 .5 1.4 .6-3.6 .5 5.4 .6-1.4 .6-.1 .5 2.3 .6-1.2 .5-1.1 .6 1.1 .5 .4 .6 2.7 .6-2 .5 1.1 .6-.5 .5 .2 .6 .1 .6 .4 .5-.6 .6 .7 .5-.9 .6 1.5 .6 .7 .5-.4 .6-.9 .5 1.2 .6-.7 .5 .5 .6 .8 .6 .3 .5 .5 .6-.7 .5-.2 .6 .7 .5-1.5 .6 3.2 .6-2.1 .5 1.2 .6-2.2 .5 2.7 .6-1.8 .6 1.2 .5 .3 .6 1.1 .5-.7 .6-.2 .6-1.1 .5-.3 .6 2.4 .5-.9 .6 1.5 .5-.5 .6-.8 .6 .2 .5-.7 .6 .1 .5 1.4 .6-.6 .5-.3 .6 .2 .6 .4 .5 .1 .6 0 .5 .2 .6-.1 .6-.5 .5 .9 .6 0 .5 0 .6-.6 .6 1 .5-.2 .6-.3 .5 .5 .6-.6 .5 .6 .6 .9 .6-.5 .5 .5 .6-.4 .5 .1 .6 .1 .5-.5 .6-.1 .6 .4 .5 .1 .6-.2 .5 0 .6 1.3 .6-1 .5 1.3 .6-.1 .5-.5 .6 1 .6-1.5 .5 .4 .6 2.3 .5-1.3 .6-.5 .5 .9 .6 .1 .6 .2 .5 .1 .6 .2 .5 0 .6-.6 .5 1.9 .6-.3 .6 1.2 .5-.3 .6-.3 .5-.8 .6 1 .6-.1 .5 .4 .6-1.2 .5 1.8 .6-.1 .6 .2 .5 .4 .6 .5 .5-.4 .6 .4 .5 1 .6-1.6 .6 .9 .5 1.2 .6-1.1 .5 .3 .6 0 .5 .4 .6 .5 .6-.4 .5 .4 .6-.4 .5 .8 .6 .3 .6 .2 .5 0 .6 .2 .5-.1 .6 .3 .6-.9 .5 1.4 .6-.8 .5 1 .6 0 .5-.7 .6 .8 .6-.3 .5 .9 .6 .4 .5-.2 .6 .2 .5 1.2 .6-.2 .6-1 .5 .7 .6 0 .5 .9 .6-1.1 .6 1.3 .5 .5 .6-.1 .5 .2 .6 .8 .6-.9 .5 .2 .6 .9 .5-.1 .6-.2 .5 .7 .6 .2 .6 .4 .5 0 .6 .4 .5-.2 .6 .9 .5 .7 .6-1.1 .6 1.1 .5-.1 .6 .1 .5 .5 .6-.4 .6 1 .5 .4 .6 .6 .5-.8 .6 1 .6-.4 .5 .8 .6-.3 .5 1.4 .6-.6 .5-.2 .6 1.1 .6 .8 .5-.9 .6 1 .5 .8 .6-.6 .5 1.5 .6 .3 .6 .8 .5-.5 .6 .5 .5 .7 .6 0 .6 0 .5 1.2 .6-.2 .5 .8 .6 .1 .6 .5 .5 .5 .6 1.1 .5-.4 .6 .5 .5 .3 .6 .8 .6-.6 .5 2 .6-.1 .5 .2 .6 .8 .5 .3 .6 .3 .6 .3 .5 .3 .6 .9 .5 .2 .6 1.2 .6-.5 .5 .7 .6 .2 .5 .9 .6 .3 .6 .2 .5 1.2 .6-.4 .5 .5 .6 .4 .5 .8 .6 0 .6 .5 .5 .7 .6 .4 .5-.1 .6 .6 .5 .5 .6 .3 .6 .3 .5 .7 .6 .3 .5 .2 .6 .1 .6 .6 .5 .1 .6 .9 .5 .3 .6 .4 .6 .4 .5 .5 .6 .1 .5 .7 .6 .3 .5 .4 .6-.1 .6 1 .5 .3 .6 .6 .5 .2 .6 .6 .5 .9 .6-.1 .6 .5 .5 .4 .6 .4 .5 .8 .6-.2 .6 .4 .5 .4 .6 .3 .5 .4 .6 .3 .6 .3 .5 0 .6 .6 .5 .4 .6 .4 .5 0 .6 .1 .6 .3 .5 .1 .6 .2 .5 .5 .6-.1 .5 .2 .6 .2 .6-.1 .5 0 .6 .5 .5-.2 .6 .2 .6-.2 .5 .1 .6 .3 .5-.3 .6 .1 .6 .1 .5-.2 .6 .1 .5-.3 .6 0 .5 0 .6 .1 .6-.3 .5 .5 .6-.5 .5 .1 .6-.3 .5 .4 .6-.5 .6 .2 .5-.3 .6-.3 .5 .1 .6-.5 .6-.1 .5 0 .6-.4 .5-.1 .6 .1 .6-.7 .5-.2 .6-.4 .5-.3 .6 0 .5-.3 .6-.3 .6 0 .5-.7 .6-.2 .5-.4 .6-.4 .5-.4 .6-.3 .6-.8 .5 0 .6-.7 .5-.3 .6-1 .6-.6 .5-.3 .6-.7 .5-.4 .6-.5 .6-.7 .5-.7 .6-.2 .5-.9 .6-.3 .5-.8 .6-.5 .6-.8 .5-.6 .6-.9 .5-.5 .6-.1 .5-.8 .6-.3 .6-1.2 .5-.5 .6-1.3 .5 .1 .6-1.3 .6-.3 .5-.7 .6-.6 .5-.9 .6-.2 .6-1.1 .5-.8 .6-.4 .5-.7 .6-.4 .5-.9 .6-.7 .6-.6 .5-.2 .6-1.8 .5-.3 .6-.4 .5-.8 .6-.7 .6-1.3 .5-.1 .6-.8 .5-.8 .6-.1 .6-1.1 .5-1.1 .6-.5 .5-.9 .6 .1 .6-1.2 .5-.3 .6-1.2 .5-.5 .6-.4 .5-.8 .6-.6 .6-1.2 .5-.1 .6-.1 .5-1.1 .6 .3 .5-1.1 .6-1 .6-.5 .5-.1 .6-1 .5-.5 .6-.5 .6-.6 .5 .2 .6-.5 .5-1.1 .6-.8 .6-1 .5 0 .6 .3 .5-1.4 .6-.5 .5-.5 .6-.3 .6-.1 .5-.7 .6-.5 .5 .3 .6-1.3 .5-.3 .6-1.5 .6 .1 .5-.7 .6 .6 .5-1.6 .6-.7 .6-.2 .5-.4 .6-.8 .5-.6 .6-.5 .6-.5 .5-.9 .6-1 .5 .1 .6-1.3 .5 .6 .6-1.5 .6-.4 .5-.8 .6-.6 .5-.2 .6-1 .5-2.3 .6 .5 .6-1.8 .5 .1 .6-1.5 .5-.3 .6-2.2 .6 .3 .5-.8 .6-1 .5-.7 .6-1.3 .6-2 .5-.9 .6-1.9 .5-.2 .6-2.5 .5 .1 .6-1.3 .6-1.3 .5-1.1 .6-1.4 .5-1.7 .6 .1 .5-1.8 .6-.5 .6-2.7 .5-.1 .6-1.9 .5-1.9 .6-.4 .6-.7 .5-1.6 .6-2.7 .5 .7 .6-2.8 .6 .3 .5-1.4 .6-2.3 .5-1 .6-.8 .5-1.8 .6-.3 .6-2.8 .5-.5 .6-2.5 .5-.1 .6-1.2 .5-1.9 .6-.6 .6 0 .5-2.5 .6-.7 .5-1.9 .6-3.3 .6 .7 .5-2 .6-.6 .5 .5 .6-2.3 .6-1.1 .5-3.5 .6-2.1 .5-2.1 .6-2.6 .5-2.3 .6-2.1 .6-1.9 .5-2.3 .6-1.4 .5-1.3 .6-1.8 .5-.4 .6-.6 .6-5.7 .5 .4 .6-4.1 .5-.4 .6 0 .6-4.8 .5-1.3 .6-4.3 .5 1.3 .6-3.6 .6 .2 .5-1.1 .6-2.1 .5-2.4 .6-2.9 .5-1.1 .6-2.8 .6 .4 .5-1.4 .6-1.8 .5-3.9 .6 1 .5 .5 .6-3.8 .6-2.3 .5-2.5 .6-2.9 .5 .5 .6-2.3 .6-1.6 .5-1.6 .6-.7 .5-4.2 .6-.8 .6 4.7 .5-4.1 .6-8 .5 2.3 .6 .7 .5-5.9 .6 3.3 .6-4.2 .5-1.1 .6-1.1 .5-1.3 .6 0 .5-3.7 .6 .6 .6-4.4 .5-.3 .6-3.3 .5-3.5 .6-.3 .6 0 .5-1.5 .6 3 .5-8.8 .6 3.5 .6-.8 .5-1.6 .6 1.5 .5-2.4 .6 1.5 .5-6.4 .6 2.5 .6 1.6 .5-8 .6 4 .5-1.6 .6-1 .5 .2 .6 .5 .6 .3 .5 2.6 .6-5.2 .5 2.8 .6-2.8 .6-3.8 .5-.8 .6 .7 .5 3.3 .6-6.3 .6 6 .5-6.2 .6 1.6 .5-4.5 .6-1.2 .5 5.7 .6 .6 .6-4.8 .5 4 .6-.5 .5-1.4 .6 2.4 .5-2.6 .6 1.9 .6-2.6 .5-3.8 .6-.6 .5-1.6 .6 3.3 .6-.4 .5 1.3 .6-3.7 .5 5.4 .6-.7 .6 .4 .5-2.7 .6 3.5 .5-5.5 .6 2.8 .5-3.1 .6 .5 .6-.7 .5-.1 .6-.6 .5 1.9 .6-.2 .5 2 .6-1.1 .6 3.8 .5-7.7 .6 1.4 .5 8.1 .6 3.1 .6-5.3 .5 0 .6 .9 .5 1.4 .6-.6 .6 1.8 .5 .8 .6 5.7 .5-4.6 .6 4.7 .5-4.7 .6 3.4 .6 1.5 .5-.4 .6-1 .5 5.5 .6-.7 .5-4.8 .6 3.7 .6 3.5 .5 .9 .6-1.6 .5 5.4 .6 .1 .6-2.1 .5 .7 .6 .6 .5-.4 .6-.5 .6 3.4 .5 1 .6-2.1 .5 3.9 .6-2.8 .5 2.1 .6-.4 .6 2.2 .5 3.7 .6-2.6 .5 1.7 .6 2.4 .5 1.7 .6-.6 .6 2 .5 .8 .6-2.9 .5-.8 .6-.5 .6 5.7 .5 .9 .6 4.2 .5-.1 .6-2.3 .6 1.8 .5 .9 .6 0 .5 .5 .6 1.5 .5 6.2 .6-3.8 .6-.6 .5 1 .6-.8 .5 3.9 .6 .8 .5 5 .6-3.2 .6 .7 .5-1.4 .6 1.3 .5 5.5 .6-.2 .6-.4 .5-.5 .6 3.3 .5-1.5 .6 1.6 .6-.6 .5 3.1 .6 .7 .5 3.2 .6-1.7 .5 0 .6 1.9 .6 .9 .5-1.1 .6 2.2 .5 2.4 .6-2.1 .5 2.9 .6 2.3 .6 1.4 .5-.4 .6 1.5 .5 .8 .6 2.8 .6-1.2 .5 .5 .6 2.7 .5 1.4 .6-2.5 .6 1.1 .5 5.7 .6-.4 .5 1.3 .6 1.6 .5 .5 .6 .8 .6 1.8 .5 1.3 .6-.6 .5 2 .6 1.9 .5 1.7 .6 .3 .6-1.1 .5 2 .6 2.9 .5 0 .6 4.3 .6-3.4 .5 .7 .6 3.7 .5 .6 .6 1.2 .6 1.5 .5-.2 .6 1.7 .5 3.5 .6-1 .5 .1 .6 .9 .6 4.1 .5-1.7 .6 .9 .5 1 .6 1 .5 .6 .6 2 .6-.3 .5 2 .6 2.5 .5-.9 .6 1.5 .6 .4 .5 1.4 .6 .7 .5 .9 .6 .6 .6 1.6 .5 .2 .6 1.7 .5-.2 .6 1.9 .5 1.6 .6 1.3 .6-1.1 .5 1.2 .6 .4 .5 1.2 .6 .5 .5-.2 .6 .4 .6 3.5 .5-2.3 .6 2.1 .5 .3 .6-.1 .6 2.5 .5 .2 .6-.4 .5 1.6 .6-.3 .6 .9 .5-.6 .6 2.4 .5 2 .6-1.5 .5 2.2 .6 .7 .6 .2 .5 .9 .6 .9 .5-.3 .6-.1 .5 1.9 .6 .5 .6 .3 .5 1.1 .6 .4 .5-.3 .6 2.4 .6-.1 .5 1.1 .6-.2 .5 1.6 .6-.3 .6 1.4 .5-.5 .6 1.9 .5 .6 .6 1.5 .5 .2 .6 .5 .6-.1 .5 1.4 .6 .3 .5 .6 .6 2.2 .5 0 .6 0 .6 .9 .5 1 .6 .8 .5 .6 .6 2.2 .6-.2 .5 .2 .6 1.1 .5 .5 .6-.2 .6 .7 .5 .7 .6 .9 .5-.2 .6 1.8 .5 .1 .6 .8 .6-.4 .5 1.7 .6 .7 .5-.1 .6 .4 .5 .7 .6 .4 .6 1.3 .5 0 .6 .6 .5-.2 .6 1.3 .6 .7 .5 .4 .6 .2 .5-.8 .6 1.6 .6 .4 .5 .7 .6 .5 .5-.4 .6 1.3 .5 .9 .6-.4 .6 1.1 .5 .1 .6 .3 .5 .1 .6 2.1 .5-1 .6 1.1 .6-.2 .5 .4 .6 .5 .5 .5 .6 .3 .6-.4 .5 1.4 .6 .4 .5 .8 .6 .1 .6 1.1 .5-1 .6 1.2 .5-.5 .6 1.6 .5-.1 .6 .4 .6 .4 .5 .3 .6 1.3 .5-.4 .6 1.6 .5-.4 .6-.1 .6 .7 .5-.1 .6 .6 .5 .9 .6 .6 .6 .5 .5 .9 .6-.6 .5 .3 .6 1.5 .6-.3 .5 0 .6 .7 .5 .6 .6-.4 .5 1.2 .6 .5 .6 .3 .5 .5 .6 .3 .5 .4 .6 .9 .5-.2 .6 .4 .6 .3 .5 .8 .6 .9 .5-.5 .6 .6 .6 .2 .5 .7 .6 .3 .5 .4 .6 .2 .6 .3 .5 .7 .6 .3 .5 .2 .6 .2 .5 .6 .6 .9 .6-.3 .5 .4 .6-.5 .5 1.2 .6 1 .5-.4 .6 1 .6-.1 .5 1 .6-.4 .5 .7 .6-.6 .6 1.2 .5-.6 .6 .6 .5 .8 .6 .3 .6 .4 .5 .1 .6 .8 .5 .1 .6 .8 .5-.2 .6 .6 .6-.4 .5 .8 .6 .5 .5 .2 .6 .5 .5 .5 .6 .4 .6-.4 .5 .8 .6-.3 .5-.1 .6 .5 .6 1 .5-.1 .6 .4 .5-.2 .6 1 .6 .1 .5 .3 .6 .6 .5 0 .6 .2 .5 .2 .6 .2 .6 1.3 .5-.6 .6 .5 .5 .1 .6 .7 .5 0 .6 .3 .6 .1 .5 .4 .6 .1 .5 1.2 .6-.3 .6 0 .5 .5 .6-.1 .5 .6 .6 .1 .6 .8 .5-.6 .6 1 .5 0 .6 .3 .5 .3 .6 .1 .6 .3 .5 .1 .6-.2 .5 .7 .6 .4 .5 .5 .6 .3 .6 .7 .5 0 .6-.3 .5 .9 .6-.1 .6 .2 .5 .5 .6 .1 .5 .3 .6 .1 .6 .4 .5 .7 .6-.7 .5 .5 .6 .2 .5 .5 .6-.3 .6 .4 .5 .5 .6 .3 .5 0 .6 1 .5-.4 .6 0 .6 .1 .5 .2 .6 .7 .5 .8 .6-.4 .6 .3 .5 0 .6 .2 .5-.3 .6 .9 .6 .1 .5 .5 .6-.4 .5 .4 .6 .3 .5 .1 .6 .2 .6 0 .5 .5 .6 0 .5 .2 .6 .4 .5 .1 .6 .1 .6 0 .5 .1 .6 .1 .5-.1 .6 .8 .6-.7 .5 .7 .6 0 .5 .3 .6 0 .6 .1 .5 .8 .6-.6 .5 .8 .6-.3 .5 .2 .6 0 .6 .3 .5-.1 .6 .1 .5 .2 .6-.1 .5 .4 .6 0 .6 .2 .5-.2 .6 .7 .5-.4 .6 .9 .6-.6 .5 .6 .6-.3 .5 .5 .6-.3 .6 .4 .5 .3 .6-.4 .5 .3 .6-.1 .5 .2 .6 .5 .6 .1 .5-.2 .6 0 .5 .4 .6-.3 .5 .9 .6-.5 .6 .2 .5 .2 .6 .1 .5 .1 .6 .1 .6 .1 .5 .2 .6 .5 .5-.4 .6 .2 .6 .3 .5-.1 .6 .2 .5-.3 .6 .4 .5 0 .6 .7 .6-.5 .5-.2 .6 .4 .5 .1 .6 .2 .5 .1 .6-.2 .6 .5 .5 0 .6 0 .5 .3 .6 0 .6 .6 .5-.4 .6 .3 .5 .1 .6 .1 .6-.1 .5 .2 .6-.4 .5 .4 .6 0 .5 .3 .6 .3 .6 .1 .5 .1 .6 .1 .5 0 .6 0 .5 .2 .6 .3 .6-.2 .5-.2 .6 .5 .5 .3 .6-.2 .6 .2 .5 0 .6 .2 .5-.1 .6 .8 .6-.4 .5 .1 .6 0 .5 .4 .6-.1 .5 .2 .6-.1 .6 .5 .5 0 .6-.4 .5 .3 .6 .3 .5 .1 .6 .1 .6 .1 .5 .2 .6-.5 .5 .6 .6-.1 .6 .1 .5 .1 .6 .3 .5 .1 .6 0 .6-.4 .5 .6 .6 .2 .5 0 .6 .2 .5 0 .6 0 .6 .3 .5 0 .6 0 .5 .3 .6 .1 .5-.5 .6 .3 .6 .1 .5 .3 .6 .1 .5 .3 .6 0 .6 .2 .5-.2 .6 .2 .5 .2 .6 .2 .6-.2 .5 .3 .6 .3 .5-.2 .6-.1 .5 .1 .6 .2 .6 .2 .5 0 .6 .5 .5-.3 .6 0 .5 .3 .6-.1 .6 .1 .5 .4 .6-.1 .5 0 .6-.2 .6 .6 .5-.2 .6 .2 .5 0 .6-.2 .6 .3 .5 .2 .6 .1 .5-.4 .6 .3 .5 .3 .6 .1 .6 .1 .5 .2 .6-.4 .5 .6 .6 0 .5 .2 .6-.4 .6 .2 .5 .2 .6 .2 .5 0 .6 .2 .6-.2 .5 .3 .6-.1 .5 .2 .6 .1 .6 .1 .5 0 .6 .1 .5 .2 .6 .2 .5 .1 .6 .1 .6-.2 .5 .2 .6 .5 .5-.3 .6-.1 .5 0 .6 .1 .6 .2 .5 .4 .6-.1 .5 0 .6 .1 .6 .2 .5 .4 .6-.5 .5 .2 .6 0 .6 .3 .5 .1 .6-.1 .5 .1 .6 .1 .5 .5 .6-.1 .6-.2 .5 0 .6 .3 .5-.1 .6 .3 .5 0 .6 .1 .6 0 .5 .2 .6 0 .5 .1 .6 0 .6 .2 .5-.1 .6 .3 .5-.4 .6 .5 .6 .1 .5 0 .6 0 .5 .1 .6 0 .5 .3 .6-.1 .6 0 .5-.2 .6 .2 .5 .2 .6 .2 .5 .2 .6-.2 .6 .1 .5 .1 .6 0 .5 .1 .6 0 .6 .2 .5 0 .6-.1 .5 .2 .6-.2 .6 .6 .5-.4 .6 .5 .5-.3 .6 .2 .5 .2 .6 0 .6 0 .5 0 .6 .1 .5 .4 .6-.7 .5 .5 .6-.1 .6-.1 .5 0 .6 .5 .5-.3 .6 .3 .6 0 .5 .2 .6 .1 .5-.1 .6-.1 .6 .2 .5-.2 .6 .2 .5 .5 .6-.5 .5 .4 .6 0 .6-.1 .5-.1 .6 .4 .5 0 .6 .2 .5 0 .6-.1 .6 0 .5 0 .6 .3 .5-.1 .6 0 .6-.2 .5 .3 .6 0 .5 .1 .6-.1 .6 .1 .5-.2 .6 .3 .5 .1 .6 .1 .5-.1 .6 .2 .6-.2 .5 .2 .6-.2 .5 .4 .6-.1 .5 .1 .6 .1 .6 0 .5 .3 .6-.1 .5-.2 .6 .2 .6 0 .5 .2 .6 0 .5 0 .6 0 .6 .4 .5-.3 .6 0 .5-.1 .6 0 .5 0 .6 .3 .6 .1 .5-.2 .6 .1 .5 .2 .6 0 .5-.2 .6 .1 .6 0 .5 .2 .6 .2 .5-.1 .6 .2 .6 0 .5 .1 .6-.1 .5 .1 .6 0 .6-.1 .5 .1 .6 .4 .5-.4 .6 0 .5-.1 .6 .4 .6-.1 .5 .1 .6 0 .5-.1 .6 .4 .5-.3 .6 0 .6 .2 .5 .1 .6 0 .5 .2 .6-.2 .6 .1 .5 0 .6 0 .5 .3 .6 .1 .6-.1 .5 .1 .6-.2 .5 .2 .6 0 .5-.1 .6 .2 .6-.2 .5 0 .6 .2 .5 0 .6 0 .5-.2 .6 .3 .6 .1 .5 .3 .6-.3 .5 .1 .6 0 .6 .1 .5-.1 .6 .1 .5 .1 .6 .1 .6 .2 .5-.3 .6 .2 .5-.2 .6 .3 .5 0 .6-.1 .6 .1 .5-.3 .6 .4 .5-.2 .6 .4 .5 .1 .6 .1 .6-.4 .5 .2 .6 0 .5 .1 .6-.3 .6 .2 .5 .2 .6 .1 .5 0 .6 0 .6 0 .5 0 .6 0 .5 0 .6 .2 .5 .1 .6-.1 .6 0 .5 0 .6-.1 .5 .3 .6 .2 .5-.2 .6 .1 .6 .1 .5-.1 .6 0 .5 0 .6 0 .6 .1 .5-.1 .6 .1 .5 .1 .6 0 .6 .1 .5 0 .6 0 .5 0 .6 .1 .5 0 .6 0 .6 .2 .5-.2 .6 .1 .5-.1 .6 0 .5 .4 .6-.1 .6-.1 .5 .2 .6-.2 .5 .1 .6-.2 .6 .3 .5 0 .6 0 .5 0 .6-.1 .6 .2 .5 .1 .6-.1 .5 .2 .6-.1 .5-.2 .6 .1 .6 .1 .5 .4 .6-.6 .5 .3 .6 .1 .5 .1 .6 0 .6 .1 .5-.2 .6 0 .5 .1 .6-.2 .6 .3 .5-.1 .6-.1 .5 0 .6 0 .6 .1 .5 .1 .6 0 .5-.1 .6 0 .5 0 .6-.1" stroke="#0072BD"/>
<path d="M176.5 700.7l.6-1.7 .5 .3 .6 7.4 .5 1.7 .6-6.9 .5 8.8 .6 1 .6 1.9 .5-.2 .6 8.4 .5-2.7 .6 2.1 .6 3.9 .5 .3 .6 .6 .5 6 .6 .7 .6 1.7 .5 2.7 .6 2.2 .5 3.5 .6 3.3 .5 1.7 .6 1.5 .6 2.9 .5 2.1 .6 1.3 .5 2 .6 2.3 .5 1 .6 .7 .6 3.2 .5 0 .6 1.9 .5 .9 .6 2 .6 .9 .5 1 .6 2.2 .5-.2 .6 2 .6 1.2 .5-.4 .6 .8 .5 1.2 .6-.3 .5 .5 .6-.3 .6 .4 .5 .7 .6 .7 .5 .1 .6 .3 .5 .6 .6 0 .6 .4 .5 .2 .6 .5 .5 .1 .6 0 .6-.1 .5 .3 .6 .5 .5-.1 .6 .3 .6 .2 .5 .1 .6 0 .5-.1 .6 .7 .5 0 .6-.1 .6 .2 .5 .2 .6-.1 .5 .8 .6-.8 .5 .6 .6-.2 .6 .1 .5 .1 .6 .2 .5 .1 .6 .5 .6-.3 .5 0 .6 .2 .5-.1 .6 .2 .6 0 .5-.1 .6 .3 .5 0 .6 .4 .5-.4 .6 .1 .6 .1 .5 0 .6 .1 .5 .2 .6-.2 .5 .4 .6-.2 .6 .3 .5-.3 .6 .2 .5 0 .6 .2 .6-.1 .5 0 .6 .1 .5-.1 .6 .4 .6-.2 .5 .2 .6-.2 .5 .1 .6-.1 .5 .1 .6 .4 .6-.3 .5 0 .6-.1 .5 .5 .6 0 .5-.2 .6 0 .6 .3 .5-.6 .6 .4 .5 .5 .6-.5 .6 .2 .5 .1 .6-.1 .5 0 .6 .1 .6 .1 .5 .1 .6 .2 .5-.1 .6-.1 .5 0 .6 .3 .6-.4 .5 .3 .6 .1 .5 0 .6-.1 .5 0 .6 .3 .6-.1 .5 .3 .6-.3 .5-.4 .6 .3 .6 0 .5-.1 .6 .4 .5-.1 .6 .1 .6 0 .5-.1 .6 .1 .5 0 .6 .1 .5-.3 .6 .3 .6 0 .5 0 .6-.1 .5 .3 .6 0 .5-.4 .6 .3 .6-.1 .5 .3 .6-.4 .5 .4 .6-.1 .6-.1 .5 .2 .6 0 .5 0 .6 .2 .6 .1 .5-.5 .6 .3 .5 .2 .6-.2 .5 .1 .6-.1 .6 .1 .5 .4 .6-.4 .5-.3 .6 .3 .5-.2 .6 .5 .6-.1 .5-.1 .6 .1 .5 .2 .6-.1 .6 .1 .5-.1 .6 0 .5 .1 .6 0 .6 .1 .5-.1 .6 .3 .5 0 .6-.3 .5 .2 .6 .2 .6 0 .5 .1 .6 .2 .5-.1 .6 .2 .5 .2 .6-.1 .6-.1 .5 .3 .6 .2 .5-.1 .6-.1 .6 0 .5 .3 .6-.2 .5 .3 .6 .1 .6 .1 .5 .1 .6 0 .5 0 .6 .3 .5 .1 .6-.1 .6 .2 .5 .2 .6 .2 .5 .1 .6 .1 .5 0 .6 .2 .6 .1 .5 0 .6 .3 .5 0 .6 .5 .6 .1 .5-.1 .6 .2 .5 .3 .6 .2 .6 .3 .5 0 .6 0 .5 .4 .6 .2 .5 0 .6 .5 .6 .1 .5 .1 .6 .2 .5 .2 .6 .6 .5 .1 .6 .1 .6 .3 .5 .2 .6 .3 .5 .2 .6 .3 .6 .3 .5 .1 .6 .2 .5 .3 .6 .3 .6 .1 .5 .1 .6 .5 .5 .4 .6 0 .5 .2 .6 .3 .6 .1 .5 .4 .6 .1 .5 .3 .6 .2 .5 .2 .6 .2 .6 .2 .5 .3 .6 .2 .5 .4 .6 0 .6 .4 .5 .1 .6 .1 .5 .1 .6 .4 .6 .3 .5-.1 .6 .6 .5 .2 .6 0 .5 .1 .6 .3 .6 .1 .5 .3 .6 .3 .5 .1 .6 .1 .5 .3 .6 .1 .6 .2 .5 .3 .6 0 .5 .3 .6 .2 .6 .1 .5 .1 .6 .2 .5 .1 .6 .2 .6 0 .5 .3 .6-.1 .5 .2 .6 .1 .5 .1 .6-.1 .6 .1 .5-.1 .6 .2 .5 .1 .6 .1 .5 0 .6 0 .6-.1 .5 .2 .6-.1 .5-.1 .6 0 .6 .1 .5 0 .6-.2 .5 .2 .6-.1 .6 .1 .5-.2 .6-.1 .5-.1 .6 0 .5-.2 .6 0 .6 0 .5-.1 .6-.2 .5-.2 .6-.3 .5 0 .6 0 .6-.3 .5 0 .6-.2 .5-.2 .6-.1 .6-.2 .5-.2 .6-.3 .5-.1 .6-.1 .6-.2 .5-.3 .6-.2 .5-.4 .6 0 .5-.3 .6-.2 .6-.2 .5-.2 .6-.2 .5-.2 .6-.2 .5-.3 .6-.2 .6-.3 .5-.4 .6-.2 .5-.6 .6 0 .6-.1 .5-.5 .6-.3 .5-.4 .6-.1 .6-.3 .5-.4 .6-.2 .5-.3 .6-.4 .5-.4 .6 .2 .6-.5 .5-.5 .6 .2 .5-.5 .6-.3 .5-.1 .6-.4 .6-.3 .5-.1 .6 0 .5-.4 .6-.3 .6 0 .5-.5 .6-.2 .5-.2 .6-.4 .6-.2 .5-.2 .6-.1 .5-.2 .6-.3 .5-.2 .6-.3 .6-.1 .5-.3 .6 0 .5-.3 .6-.2 .5-.4 .6 .1 .6-.3 .5-.1 .6-.2 .5-.1 .6-.3 .6 .1 .5-.6 .6 .1 .5-.2 .6 0 .6-.3 .5 0 .6-.4 .5-.1 .6 0 .5-.4 .6-.1 .6-.1 .5-.2 .6-.2 .5-.2 .6-.2 .5-.2 .6-.3 .6-.1 .5 0 .6-.4 .5-.3 .6 0 .6-.4 .5 0 .6 0 .5-.5 .6-.1 .6-.2 .5-.4 .6-.5 .5 .1 .6-.6 .5 .1 .6-.2 .6 .1 .5-.4 .6-.6 .5-.1 .6-.2 .5-.4 .6-.1 .6-.1 .5-.4 .6-.1 .5 0 .6-.5 .6-.1 .5-.3 .6-.2 .5-.3 .6 .1 .6-.4 .5-.1 .6-.4 .5 .1 .6-.5 .5-.3 .6 .1 .6-.2 .5-.2 .6-.4 .5 .2 .6-.5 .5 0 .6-.2 .6-.4 .5 .1 .6-.2 .5-.4 .6-.2 .6 0 .5-.4 .6-.1 .5 .1 .6-.4 .6-.1 .5-.4 .6-.1 .5-.2 .6-.4 .5 0 .6-.1 .6-.6 .5 .1 .6-.5 .5 .1 .6-.2 .5-.1 .6-.6 .6 .2 .5-.5 .6 .1 .5-.3 .6-.2 .6-.2 .5 0 .6-.7 .5 .2 .6 0 .6-.4 .5 .1 .6-.5 .5-.2 .6 0 .5-.1 .6-.2 .6-.4 .5-.3 .6-.3 .5 .1 .6-.1 .5-.4 .6-.3 .6-.1 .5-.1 .6-.1 .5-.4 .6-.3 .6 .1 .5-.4 .6-.2 .5-.5 .6 .2 .6-.2 .5 .1 .6-.4 .5-.4 .6-.1 .5-.5 .6 .1 .6-.4 .5-.1 .6-.3 .5-.1 .6-.2 .5-.2 .6-.3 .6-.1 .5-.6 .6-.3 .5-.1 .6 .3 .6-.9 .5-.2 .6-.3 .5-.1 .6-.1 .6-.3 .5-.3 .6-.2 .5 0 .6-1 .5 .1 .6-.3 .6 0 .5-.7 .6-.2 .5 .2 .6-.5 .5-.5 .6 .2 .6-.1 .5-.5 .6-.3 .5-.6 .6-.3 .6-.1 .5-.2 .6-.4 .5-.2 .6 .1 .6-.4 .5-.5 .6-.2 .5-.1 .6-.3 .5-.1 .6-.4 .6 0 .5-.9 .6 .1 .5 0 .6-.7 .5 .2 .6-.2 .6-.2 .5-.2 .6-.7 .5 .2 .6 .1 .6 0 .5-.8 .6 0 .5-.1 .6-.2 .6-.5 .5 .6 .6-.4 .5-.3 .6-.8 .5 .3 .6-.2 .6-.1 .5 0 .6 .2 .5-.5 .6-.2 .5-.4 .6-.1 .6-.7 .5 0 .6 .1 .5 .1 .6-.3 .6 .2 .5-.7 .6 0 .5-.5 .6 .2 .6-.5 .5 .1 .6-.2 .5-.1 .6-.3 .5 .1 .6-.1 .6 0 .5-.5 .6-.3 .5 0 .6-.4 .5 .1 .6-.2 .6-.1 .5 .3 .6-.7 .5 .1 .6 0 .6-.2 .5-.3 .6-.4 .5 0 .6-.1 .6-.2 .5-.7 .6 .4 .5-.2 .6-.1 .5-.2 .6-.1 .6-.5 .5-.5 .6 .5 .5-.5 .6 .4 .5-.4 .6-.4 .6 .4 .5-1 .6 .4 .5-.1 .6-.6 .6 0 .5 .3 .6-.3 .5-.2 .6 0 .6-.5 .5 .4 .6-.8 .5 .3 .6-.1 .5-.1 .6 .1 .6-.2 .5 0 .6-.4 .5 .2 .6 .1 .5-.6 .6 .2 .6-.5 .5 .3 .6-.1 .5-.2 .6 .1 .6-.5 .5 .2 .6-.2 .5 .2 .6 .2 .6-.2 .5 0 .6-.3 .5-.5 .6 .3 .5 0 .6 .2 .6-.3 .5 .1 .6-.3 .5 0 .6-.5 .5 .4 .6-.4 .6 .7 .5-.5 .6-.2 .5 .1 .6 .2 .6-.3 .5-.1 .6-.5 .5 .6 .6 .1 .6-.5 .5 .1 .6 .1 .5-.1 .6 0 .5-.2 .6-.2 .6 .4 .5-.5 .6 .4 .5-.1 .6 .2 .5 .2 .6-.2 .6 0 .5-.1 .6 0 .5-.2 .6 .3 .6-.2 .5 .3 .6-.1 .5 .4 .6-.6 .6 .4 .5-.1 .6 .1 .5 0 .6 .2 .5-.3 .6 .2 .6 .3 .5 .1 .6-.3 .5 .1 .6 .1 .5 .1 .6-.3 .6 .1 .5 .4 .6-.4 .5 .6 .6-.5 .6 0 .5 .5 .6-.8 .5 .3 .6 .5 .6-.2 .5 .1 .6 .3 .5 0 .6 0 .5-.2 .6 .1 .6-.5 .5 .7 .6-.1 .5 .1 .6 .1 .5-.1 .6-.1 .6 .1 .5 .4 .6-.1 .5-.1 .6 0 .6-.1 .5 .3 .6 0 .5 .5 .6-.4 .6 .1 .5 0 .6 0 .5 .3 .6 .2 .5-.5 .6 .1 .6-.5 .5 .7 .6 .4 .5 0 .6-.8 .5 .4 .6 .4 .6-.1 .5 .2 .6-.3 .5 .1 .6-.2 .6 .3 .5 .2 .6-.3 .5 .4 .6-.2 .6 .4 .5 0 .6-.1 .5 .2 .6-.3 .5 .2 .6-.2 .6 .3 .5 .1 .6 0 .5 .3 .6-.1 .5-.3 .6 .3 .6 0 .5 .2 .6 .2 .5-.3 .6 .2 .6-.1 .5 .6 .6-.3 .5 0 .6-.3 .6 .6 .5-.7 .6 .6 .5 .3 .6 .4 .5-.8 .6 .3 .6 0 .5 .2 .6 .4 .5-.3 .6 0 .5 .2 .6-.5 .6 .4 .5 .8 .6-.4 .5-.4 .6 .3 .6 0 .5 .4 .6-.4 .5 .3 .6 .1 .6 0 .5 .3 .6-.4 .5 .7 .6-.2 .5-.1 .6 .2 .6-.2 .5 .1 .6 .2 .5 .2 .6 0 .5 .1 .6 .1 .6 .6 .5-.4 .6-.1 .5 .1 .6 .2 .6 0 .5 .2 .6 .2 .5 0 .6-.2 .6-.2 .5 .3 .6 .2 .5 0 .6 .4 .5 .1 .6 .1 .6-.3 .5 .1 .6 .3 .5-.5 .6 .7 .5-.1 .6 0 .6 .6 .5-.3 .6 0 .5 0 .6 .1 .6 .1 .5 .5 .6 .1 .5-.5 .6 .5 .6 0 .5-.2 .6 .7 .5-.5 .6 .2 .5 .2 .6 .2 .6 0 .5-.1 .6 .4 .5 .1 .6 0 .5-.1 .6 .3 .6 .1 .5-.4 .6 .6 .5-.1 .6 .2 .6 .2 .5 .1 .6 0 .5 0 .6 .5 .6 0 .5 .2 .6-.2 .5 .3 .6 0 .5 .1 .6-.3 .6 1.1 .5-.3 .6-.2 .5 .3 .6 .1 .5-.3 .6 .7 .6 .4 .5-.7 .6 .3 .5 .2 .6 .2 .6-.1 .5 .5 .6-.1 .5 .3 .6-.1 .6 .6 .5-.4 .6 .1 .5-.4 .6 .7 .5 0 .6 .3 .6 .1 .5 .1 .6-.5 .5 .8 .6-.1 .5-.1 .6 0 .6 .3 .5 .4 .6-.3 .5 .4 .6 .1 .6-.2 .5 .9 .6-.5 .5 .1 .6 .1 .6 .4 .5-.4 .6 .5 .5 .1 .6-.1 .5 0 .6 .5 .6 0 .5-.1 .6 .3 .5 .2 .6 0 .5 .1 .6 0 .6 .3 .5 .2 .6-.2 .5 .3 .6 .2 .6 0 .5 .2 .6 .2 .5-.1 .6 .2 .6 0 .5 .4 .6-.1 .5-.3 .6 .5 .5-.2 .6 .5 .6-.1 .5 .4 .6-.4 .5 0 .6 .4 .5 .4 .6-.2 .6 .1 .5 .2 .6 .1 .5 .3 .6-.1 .6 .3 .5 0 .6 .2 .5 .2 .6 0 .6-.2 .5 .7 .6-.2 .5 .1 .6 .3 .5 .1 .6-.1 .6 .2 .5 .1 .6 .1 .5 .1 .6 0 .5-.3 .6 .6 .6 .1 .5 0 .6 .3 .5 .2 .6-.2 .6 .3 .5 .5 .6-.3 .5-.2 .6 .6 .6-.4 .5 .3 .6 0 .5 .2 .6 .1 .5 0 .6 .4 .6 .2 .5-.2 .6 .2 .5 .1 .6 .1 .5-.4 .6 .5 .6 .1 .5 .6 .6-.2 .5 .1 .6-.5 .6 .8 .5-.1 .6 0 .5 .1 .6 .1 .6 .2 .5 .2 .6 .1 .5-.1 .6 .1 .5 .2 .6-.2 .6 .4 .5 .1 .6 0 .5 .1 .6 0 .5 .2 .6 .5 .6-.3 .5 .2 .6 .1 .5-.2 .6-.1 .6 .2 .5 .4 .6 0 .5-.1 .6 .1 .6 .5 .5-.1 .6 0 .5 .2 .6 .4 .5-.2 .6-.1 .6 0 .5 .1 .6 .2 .5 0 .6 .1 .5 0 .6 .1 .6 .1 .5-.1 .6 .5 .5 .2 .6-.2 .6 .1 .5-.2 .6 .4 .5-.1 .6 .1 .6 .2 .5 .4 .6-.3 .5 .1 .6 .1 .5 0 .6 .2 .6-.1 .5 .1 .6 .1 .5 0 .6 .2 .5 0 .6-.1 .6 .1 .5 .4 .6-.1 .5 0 .6 .1 .6 .1 .5-.1 .6 0 .5 .3 .6 .1 .6-.3 .5 .4 .6 .1 .5 .2 .6-.4 .5 .3 .6 .4 .6-.1 .5-.2 .6 .5 .5-.2 .6 .1 .5 .1 .6 0 .6 .2 .5 0 .6-.1 .5 .2 .6 .1 .6 .1 .5 .2 .6 0 .5-.1 .6 .2 .6 .2 .5-.2 .6 .2 .5 .2 .6 .1 .5-.3 .6 .2 .6 .2 .5 .2 .6-.2 .5 .4 .6-.1 .5 0 .6-.1 .6 .3 .5 .3 .6-.1 .5-.2 .6 .4 .6 .2 .5 .1 .6-.3 .5 0 .6 .3 .6 .1 .5 .1 .6 .2 .5-.1 .6 .1 .5 .1 .6 .2 .6-.4 .5 .4 .6 .1 .5-.1 .6 .5 .5-.2 .6 .1 .6 0 .5-.1 .6 .5 .5 0 .6 0 .6 0 .5 0 .6 .1 .5 .2 .6 .2 .6-.1 .5 .1 .6 .3 .5-.3 .6 .1 .5 .2 .6 .2 .6 0 .5 .1 .6 0 .5 .4 .6-.2 .5 0 .6-.1 .6 .3 .5 0 .6 .3 .5-.1 .6 .2 .6-.4 .5 .2 .6 .4 .5 0 .6 .3 .6-.2 .5-.2 .6 .6 .5-.2 .6 .2 .5-.3 .6 .4 .6 0 .5 .1 .6 0 .5 .1 .6 .1 .5 .2 .6 0 .6 0 .5 0 .6 .2 .5 .1 .6 .3 .6 0 .5-.1 .6 .1 .5 0 .6 .1 .6 .1 .5 .2 .6-.2 .5 .3 .6-.1 .5 .3 .6-.4 .6 .5 .5-.1 .6 0 .5 .3 .6-.1 .5 .1 .6-.2 .6 .5 .5 0 .6 0 .5 0 .6 .1 .6 .2 .5-.1 .6 .3 .5-.2 .6 .2 .6-.3 .5 .4 .6 .3 .5 .1 .6-.2 .5 .1 .6-.3 .6 .3 .5 .2 .6 .1 .5 .2 .6 0 .5-.2 .6 .4 .6-.3 .5 .2 .6 0 .5 .1 .6 .2 .6-.2 .5 0 .6 .4 .5-.4 .6 .3 .6 .1 .5 0 .6 .4 .5-.1 .6-.2 .5 .1 .6 .3 .6 0 .5 .1 .6 .1 .5-.1 .6 .1 .5 .3 .6-.2 .6 .4 .5-.1 .6-.1 .5 .3 .6-.2 .6 0 .5 .2 .6 0 .5 .3 .6 0 .6-.1 .5 .3 .6-.3 .5 0 .6 .6 .5-.4 .6 .1 .6-.2 .5 .3 .6 0 .5 .1 .6 0 .5 .1 .6 0 .6 .4 .5-.2 .6 .1 .5 .1 .6 .1 .6 .2 .5-.1 .6 0 .5 .1 .6-.1 .6 .3 .5 0 .6-.1 .5-.1 .6 .4 .5 0 .6 .3 .6-.1 .5-.2 .6-.1 .5 .4 .6-.1 .5 .3 .6-.1 .6-.1 .5 .3 .6 0 .5 0 .6 .2 .6 0 .5 0 .6 .1 .5 .1 .6 .1 .6-.1 .5 .1 .6 0 .5 .1 .6 .1 .5 0 .6 .1 .6 .2 .5-.1 .6 0 .5 0 .6-.1 .5 .5 .6-.2 .6 .1 .5 .1 .6 0 .5 0 .6 .1 .6 .1 .5 0 .6 .1 .5 .2 .6-.1 .6-.1 .5 .3 .6-.1 .5 .1 .6 .2 .5 0 .6 0 .6 0 .5 .2 .6-.2 .5 .1 .6 0 .5 .2 .6 0 .6 0 .5 .1 .6 .1 .5 0 .6 0 .6 .1 .5 0 .6-.1 .5 .2 .6 .1 .6 .1 .5 0 .6-.1 .5-.1 .6 .5 .5-.1 .6 .4 .6-.1 .5-.1 .6 .2 .5-.1 .6 0 .5 .1 .6-.1 .6 .2 .5 .1 .6 0 .5 .3 .6-.3 .6 .1 .5 .1 .6-.1 .5 .2 .6 .1 .6 .2 .5-.1 .6 0 .5 .1 .6 0 .5 .2 .6 .1 .6-.2 .5 .1 .6-.1 .5 .1 .6 .1 .5 .1 .6-.1 .6 .3 .5-.2 .6 .2 .5 .1 .6 0 .6 0 .5-.1 .6 .1 .5 .4 .6-.1 .6 0 .5 .2 .6-.2 .5 .1 .6 0 .5 .1 .6 .1 .6-.1 .5 .3 .6 .1 .5-.3 .6 .2 .5 .1 .6 0 .6 0 .5 .1 .6-.1 .5 .1 .6 .1 .6-.2 .5 .2 .6 .2 .5 0 .6 .1 .6-.1 .5 .2 .6-.1 .5 .2 .6-.2 .5 .1 .6 .1 .6 0 .5 .1 .6 .1 .5 .3 .6-.2 .5-.2 .6 .5 .6-.1 .5-.1 .6 .2 .5 0 .6-.1 .6 .2 .5 0 .6 0 .5 .1 .6-.1 .6-.1 .5 .2 .6 .2 .5 0 .6 0 .5 0 .6 0 .6 .2 .5 0 .6 0 .5 .1 .6-.1 .5 .3 .6-.1 .6 .2 .5-.2 .6 .1 .5 0 .6 .1 .6 0 .5 0 .6 .4 .5-.3 .6 0 .6 .2 .5-.1 .6 .1 .5 .2 .6-.3 .5 .1 .6 .3 .6-.3 .5 .3 .6 0 .5 0 .6 0 .5 .2 .6 .1 .6-.2 .5 .2 .6 0 .5 .1 .6-.1 .6 .1 .5 0 .6 .1 .5 .3 .6-.2 .6 0 .5 .2 .6 0 .5 .1 .6-.1 .5 0 .6 .1 .6-.1 .5 .3 .6-.1 .5 .1 .6-.3 .5 .4 .6-.2 .6 .1 .5 .1 .6 0 .5 .2 .6-.1 .6 0 .5 0 .6 0 .5 0 .6 .1 .6 0 .5 .1 .6 .1 .5-.1 .6 .1 .5 .1 .6-.1 .6 0 .5 0 .6 .2 .5 0 .6 .1 .5-.3 .6 .1 .6 .1 .5 .2 .6-.1 .5-.1 .6-.1 .6 .3 .5-.2 .6 .2 .5 .2 .6-.1 .6 .1 .5-.1 .6-.1 .5 0 .6 0 .5 .2 .6-.2" stroke="#FF00FF"/>
</g>
<path d="M310.5 816.5v-9.3M310.5 40.5v9.3M534.5 816.5v-9.3M534.5 40.5v9.3M757.5 816.5v-9.3M757.5 40.5v9.3M980.5 816.5v-9.3M980.5 40.5v9.3M176.5 622.5h9.3M1114.5 622.5h-9.3M176.5 428.5h9.3M1114.5 428.5h-9.3M176.5 234.5h9.3M1114.5 234.5h-9.3" stroke="#262626" stroke-width="1" fill="none"/>
<g font-family="Liberation Sans, Arial, Helvetica, sans-serif" fill="#000" filter="url(#cr)">
<text x="132.99" y="835.20" font-size="50.00">0</text>
<text x="91.29" y="641.20" font-size="50.00">0.5</text>
<text x="132.99" y="447.20" font-size="50.00" clip-path="url(#k1)">1</text>
<text x="91.29" y="253.20" font-size="50.00" clip-path="url(#k2)">1.5</text>
<text x="132.99" y="59.20" font-size="50.00">2</text>
<text x="268.29" y="871.30" font-size="50.00">300</text>
<text x="491.62" y="871.30" font-size="50.00">400</text>
<text x="714.96" y="871.30" font-size="50.00">500</text>
<text x="938.29" y="871.30" font-size="50.00">600</text>
<text x="448.27" y="935.20" font-size="54.00">wavelength (nm)</text>
<text transform="translate(73.60 648.77) rotate(-90) scale(0.9996 1)" font-size="54.00">absorbance (O.D.)</text>
<path d="M864.8 149.4H925" stroke="#A2142F" stroke-width="2.6"/>
<text x="931.05" y="167.30" font-size="44.80" fill="#1a1a1a" clip-path="url(#k3)">0.125</text>
<path d="M864.8 203.4H925" stroke="#FF0000" stroke-width="2.6"/>
<text x="931.05" y="221.30" font-size="44.80" fill="#1a1a1a">0.25</text>
<path d="M864.8 257.4H925" stroke="#EDB120" stroke-width="2.6"/>
<text x="931.05" y="275.30" font-size="44.80" fill="#1a1a1a">0.5</text>
<path d="M864.8 311.4H925" stroke="#77AC30" stroke-width="2.6"/>
<text x="931.05" y="329.30" font-size="44.80" fill="#1a1a1a" clip-path="url(#k4)">1</text>
<path d="M864.8 365.4H925" stroke="#4DBEEE" stroke-width="2.6"/>
<text x="931.05" y="383.30" font-size="44.80" fill="#1a1a1a">5</text>
<path d="M864.8 419.4H925" stroke="#0072BD" stroke-width="2.6"/>
<text x="931.05" y="437.30" font-size="44.80" fill="#1a1a1a" clip-path="url(#k5)">10</text>
<path d="M864.8 473.4H925" stroke="#FF00FF" stroke-width="2.6"/>
<text x="931.05" y="491.30" font-size="44.80" fill="#1a1a1a">20</text>
</g>
<g font-family="Liberation Sans, Arial, sans-serif" fill="#231F20" filter="url(#cr)">
<text transform="translate(186.45 126.54) scale(0.8668 1)" font-size="102.68" font-weight="bold">(</text>
<text transform="translate(220.28 134.04) scale(0.8833 1)" font-size="106.20" font-weight="bold">a</text>
<text transform="translate(282.81 126.54) scale(0.8599 1)" font-size="102.68" font-weight="bold">)</text>
<text transform="translate(1403.33 126.40) scale(0.8685 1)" font-size="102.89" font-weight="bold">(</text>
<text transform="translate(1436.56 134.64) scale(0.9757 1)" font-size="115.51" font-weight="bold">b</text>
<text transform="translate(1507.71 126.40) scale(0.8719 1)" font-size="102.89" font-weight="bold">)</text>
<text transform="translate(812.29 106.90) scale(0.9323 1)" font-size="43.31" font-weight="bold">NH</text>
<text transform="translate(873.35 116.56) scale(0.9120 1)" font-size="30.89" font-weight="bold">3</text>
<text transform="translate(899.56 103.90) scale(1.0242 1)" font-size="38.48" font-weight="bold">conc. (mM)</text>
</g>
<path d="M1465.5 816.5v-5.0M1465.5 40.5v5.0M1531.5 816.5v-5.0M1531.5 40.5v5.0M1579.5 816.5v-5.0M1579.5 40.5v5.0M1615.5 816.5v-5.0M1615.5 40.5v5.0M1645.5 816.5v-5.0M1645.5 40.5v5.0M1671.5 816.5v-5.0M1671.5 40.5v5.0M1693.5 816.5v-5.0M1693.5 40.5v5.0M1712.5 816.5v-5.0M1712.5 40.5v5.0M1730.5 816.5v-9.3M1730.5 40.5v9.3M1844.5 816.5v-5.0M1844.5 40.5v5.0M1910.5 816.5v-5.0M1910.5 40.5v5.0M1958.5 816.5v-5.0M1958.5 40.5v5.0M1995.5 816.5v-5.0M1995.5 40.5v5.0M2025.5 816.5v-5.0M2025.5 40.5v5.0M2050.5 816.5v-5.0M2050.5 40.5v5.0M2072.5 816.5v-5.0M2072.5 40.5v5.0M2091.5 816.5v-5.0M2091.5 40.5v5.0M2109.5 816.5v-9.3M2109.5 40.5v9.3M2223.5 816.5v-5.0M2223.5 40.5v5.0M1350.5 622.5h9.3M1350.5 428.5h9.3M1350.5 234.5h9.3M2289.5 706.5h-9.3M2289.5 595.5h-9.3M2289.5 484.5h-9.3M2289.5 373.5h-9.3M2289.5 262.5h-9.3M2289.5 151.5h-9.3" stroke="#262626" stroke-width="1" fill="none"/>
<rect x="1350.5" y="40.5" width="939.0" height="776.0" fill="none" stroke="#262626" stroke-width="1"/>
<g shape-rendering="crispEdges"><path d="M1387.4 714.0V800.0M1381.9 714.0h11M1381.9 800.0h11" stroke="#f00" stroke-width="3.6" fill="none"/><rect x="1379.9" y="749.0" width="15" height="15" fill="#f00"/><path d="M1502.0 387.8V739.4M1496.5 387.8h11M1496.5 739.4h11" stroke="#f00" stroke-width="3.6" fill="none"/><rect x="1494.5" y="554.9" width="15" height="15" fill="#f00"/><path d="M1568.4 218.2V516.1M1562.9 218.2h11M1562.9 516.1h11" stroke="#f00" stroke-width="3.6" fill="none"/><rect x="1560.9" y="358.8" width="15" height="15" fill="#f00"/><path d="M1615.4 184.9V332.0M1609.9 184.9h11M1609.9 332.0h11" stroke="#f00" stroke-width="3.6" fill="none"/><rect x="1607.9" y="250.0" width="15" height="15" fill="#f00"/><path d="M1682.4 150.8V234.8M1676.9 150.8h11M1676.9 234.8h11" stroke="#f00" stroke-width="3.6" fill="none"/><rect x="1674.9" y="186.8" width="15" height="15" fill="#f00"/><path d="M1730.1 130.4V215.8M1724.6 130.4h11M1724.6 215.8h11" stroke="#f00" stroke-width="3.6" fill="none"/><rect x="1722.6" y="166.8" width="15" height="15" fill="#f00"/><path d="M1880.3 174.8V245.9M1874.8 174.8h11M1874.8 245.9h11" stroke="#f00" stroke-width="3.6" fill="none"/><rect x="1872.8" y="204.0" width="15" height="15" fill="#f00"/><path d="M1994.5 263.9V343.0M1989.0 263.9h11M1989.0 343.0h11" stroke="#f00" stroke-width="3.6" fill="none"/><rect x="1987.0" y="296.8" width="15" height="15" fill="#f00"/><path d="M2108.4 421.7V622.7M2102.9 421.7h11M2102.9 622.7h11" stroke="#f00" stroke-width="3.6" fill="none"/><rect x="2100.9" y="515.8" width="15" height="15" fill="#f00"/><path d="M2222.8 711.9V752.8M2217.3 711.9h11M2217.3 752.8h11" stroke="#f00" stroke-width="3.6" fill="none"/><rect x="2215.3" y="724.9" width="15" height="15" fill="#f00"/><path d="M1388.4 50.8V463.3M1382.9 50.8h11M1382.9 463.3h11" stroke="#00f" stroke-width="4" fill="none"/><path d="M1377.10 250.2h22.6l-11.3 19.6z" fill="#00f"/><path d="M1502.1 219.2V695.3M1496.6 219.2h11M1496.6 695.3h11" stroke="#00f" stroke-width="4" fill="none"/><path d="M1490.80 451.9h22.6l-11.3 19.6z" fill="#00f"/><path d="M1568.9 489.0V725.4M1563.4 489.0h11M1563.4 725.4h11" stroke="#00f" stroke-width="4" fill="none"/><path d="M1557.60 602.1h22.6l-11.3 19.6z" fill="#00f"/><path d="M1616.3 616.9V715.5M1610.8 616.9h11M1610.8 715.5h11" stroke="#00f" stroke-width="4" fill="none"/><path d="M1605.00 661.3h22.6l-11.3 19.6z" fill="#00f"/><path d="M1670.70 705.0h22.6l-11.3 19.6z" fill="#00f"/><path d="M1718.20 707.0h22.6l-11.3 19.6z" fill="#00f"/><path d="M1880.9 634.8V674.9M1875.4 634.8h11M1875.4 674.9h11" stroke="#00f" stroke-width="4" fill="none"/><path d="M1869.60 648.0h22.6l-11.3 19.6z" fill="#00f"/><path d="M1994.9 575.4V659.4M1989.4 575.4h11M1989.4 659.4h11" stroke="#00f" stroke-width="4" fill="none"/><path d="M1983.60 611.1h22.6l-11.3 19.6z" fill="#00f"/><path d="M2109.4 447.1V573.9M2103.9 447.1h11M2103.9 573.9h11" stroke="#00f" stroke-width="4" fill="none"/><path d="M2098.10 503.3h22.6l-11.3 19.6z" fill="#00f"/><path d="M2223.4 322.1V420.5M2217.9 322.1h11M2217.9 420.5h11" stroke="#00f" stroke-width="4" fill="none"/><path d="M2212.10 366.3h22.6l-11.3 19.6z" fill="#00f"/></g>
<g font-family="Liberation Sans, Arial, Helvetica, sans-serif" font-size="50" filter="url(#cr)">
<text x="1308.39" y="835.20" font-size="50.00" fill="#f00">0</text>
<text x="1266.69" y="641.20" font-size="50.00" fill="#f00">0.5</text>
<text x="1308.39" y="447.20" font-size="50.00" fill="#f00" clip-path="url(#k6)">1</text>
<text x="1266.69" y="253.20" font-size="50.00" fill="#f00" clip-path="url(#k7)">1.5</text>
<text x="1308.39" y="59.20" font-size="50.00" fill="#f00">2</text>
<text x="2302.3" y="835.0" fill="#00f">390</text>
<text x="2302.3" y="724.1" fill="#00f">400</text>
<text x="2302.3" y="613.3" fill="#00f">410</text>
<text x="2302.3" y="502.4" fill="#00f">420</text>
<text x="2302.3" y="391.6" fill="#00f">430</text>
<text x="2302.3" y="280.7" fill="#00f">440</text>
<text x="2302.3" y="169.9" fill="#00f">450</text>
<text x="2302.3" y="59.0" fill="#00f">460</text>
<text x="1315.75" y="871.30" font-size="50.00" clip-path="url(#k8)">0.1</text>
<text x="1715.67" y="871.30" font-size="50.00" clip-path="url(#k9)">1</text>
<text x="2080.83" y="871.30" font-size="50.00" clip-path="url(#k10)">10</text>
<text x="1694.27" y="935.10" font-size="54.00">[NH</text>
<text x="1787.34" y="950.60" font-size="41.00">3</text>
<text x="1811.57" y="935.10" font-size="54.00">] (mM)</text>
<text transform="translate(1248.30 719.29) rotate(-90) scale(1.0007 1)" font-size="54.00" fill="#f00">SPR absorbance (O.D.)</text>
<text transform="translate(2421.00 170.31) rotate(90) scale(1.0016 1)" font-size="54.00" fill="#00f">SPR wavelength (nm)</text>
<rect x="1964" y="65" width="21" height="21" fill="#f00"/>
<path d="M1959 142h31l-15.5 26z" fill="#00f"/>
<text transform="translate(2016.73 92.00) scale(0.9963 1)" font-size="49.50">absorbance</text>
<text transform="translate(2018.45 163.60) scale(0.9881 1)" font-size="49.50">wavelength</text>
</g>
<defs><clipPath id="k1"><path clip-rule="evenodd" d="M0 0H2492V965H0ZM135.99 442.26H145.57V448.70H135.99ZM149.98 442.26H159.49V448.70H149.98Z"/></clipPath><clipPath id="k2"><path clip-rule="evenodd" d="M0 0H2492V965H0ZM94.29 248.26H103.87V254.70H94.29ZM108.28 248.26H117.79V254.70H108.28Z"/></clipPath><clipPath id="k3"><path clip-rule="evenodd" d="M0 0H2492V965H0ZM971.10 162.75H979.68V168.80H971.10ZM983.64 162.75H992.16V168.80H983.64Z"/></clipPath><clipPath id="k4"><path clip-rule="evenodd" d="M0 0H2492V965H0ZM933.74 324.75H942.32V330.80H933.74ZM946.27 324.75H954.79V330.80H946.27Z"/></clipPath><clipPath id="k5"><path clip-rule="evenodd" d="M0 0H2492V965H0ZM933.74 432.75H942.32V438.80H933.74ZM946.27 432.75H954.79V438.80H946.27Z"/></clipPath><clipPath id="k6"><path clip-rule="evenodd" d="M0 0H2492V965H0ZM1311.39 442.26H1320.97V448.70H1311.39ZM1325.38 442.26H1334.89V448.70H1325.38Z"/></clipPath><clipPath id="k7"><path clip-rule="evenodd" d="M0 0H2492V965H0ZM1269.69 248.26H1279.27V254.70H1269.69ZM1283.68 248.26H1293.19V254.70H1283.68Z"/></clipPath><clipPath id="k8"><path clip-rule="evenodd" d="M0 0H2492V965H0ZM1360.45 866.36H1370.02V872.80H1360.45ZM1374.44 866.36H1383.95V872.80H1374.44Z"/></clipPath><clipPath id="k9"><path clip-rule="evenodd" d="M0 0H2492V965H0ZM1718.67 866.36H1728.24V872.80H1718.67ZM1732.66 866.36H1742.17V872.80H1732.66Z"/></clipPath><clipPath id="k10"><path clip-rule="evenodd" d="M0 0H2492V965H0ZM2083.83 866.36H2093.41V872.80H2083.83ZM2097.82 866.36H2107.33V872.80H2097.82Z"/></clipPath></defs>
</svg>
</body></html>
